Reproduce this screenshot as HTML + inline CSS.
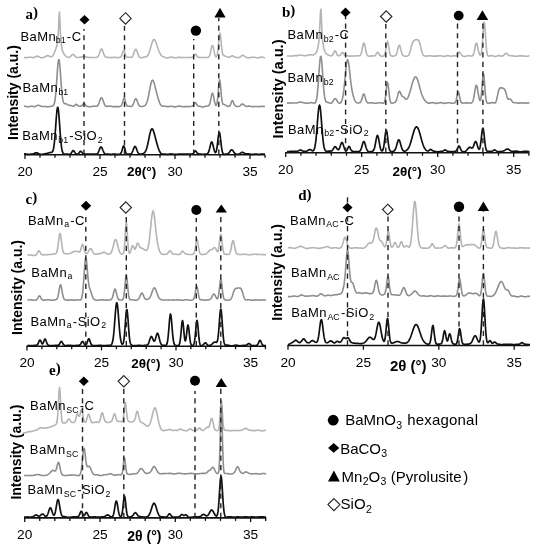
<!DOCTYPE html>
<html><head><meta charset="utf-8"><style>
html,body{margin:0;padding:0;background:#fff;width:540px;height:550px;overflow:hidden}
svg{display:block;filter:blur(0.35px)}
</style></head><body>
<svg width="540" height="550" viewBox="0 0 540 550">
<rect width="540" height="550" fill="#fff"/>
<polyline points="24.0,57.44 24.5,57.49 25.0,57.54 25.5,57.58 26.0,57.61 26.5,57.61 27.0,57.58 27.5,57.52 28.0,57.45 28.5,57.36 29.0,57.28 29.5,57.23 30.0,57.20 30.5,57.23 31.0,57.29 31.5,57.38 32.0,57.48 32.5,57.57 33.0,57.62 33.5,57.61 34.0,57.51 34.5,57.32 35.0,57.06 35.5,56.76 36.0,56.47 36.5,56.26 37.0,56.15 37.5,56.16 38.0,56.29 38.5,56.50 39.0,56.75 39.5,57.02 40.0,57.27 40.5,57.47 41.0,57.63 41.5,57.72 42.0,57.76 42.5,57.73 43.0,57.64 43.5,57.50 44.0,57.31 44.5,57.09 45.0,56.83 45.5,56.55 46.0,56.25 46.5,55.97 47.0,55.74 47.5,55.61 48.0,55.61 48.5,55.74 49.0,55.98 49.5,56.26 50.0,56.54 50.5,56.74 51.0,56.83 51.5,56.76 52.0,56.52 52.5,56.07 53.0,55.39 53.5,54.50 54.0,53.42 54.5,52.21 55.0,50.93 55.5,49.65 56.0,48.32 56.5,46.84 57.0,44.96 57.5,42.18 58.0,37.55 58.5,29.36 59.0,17.10 59.5,11.97 60.0,22.78 60.5,34.28 61.0,41.35 61.5,45.62 62.0,48.45 62.5,50.47 63.0,51.99 63.5,53.15 64.0,54.05 64.5,54.76 65.0,55.32 65.5,55.80 66.0,56.21 66.5,56.56 67.0,56.87 67.5,57.12 68.0,57.31 68.5,57.40 69.0,57.38 69.5,57.22 70.0,56.93 70.5,56.49 71.0,55.96 71.5,55.39 72.0,54.88 72.5,54.54 73.0,54.44 73.5,54.61 74.0,55.01 74.5,55.56 75.0,56.15 75.5,56.69 76.0,57.11 76.5,57.39 77.0,57.54 77.5,57.57 78.0,57.53 78.5,57.44 79.0,57.34 79.5,57.26 80.0,57.19 80.5,57.15 81.0,57.12 81.5,57.05 82.0,56.91 82.5,56.68 83.0,56.41 83.5,56.19 84.0,56.11 84.5,56.22 85.0,56.48 85.5,56.78 86.0,57.04 86.5,57.20 87.0,57.28 87.5,57.32 88.0,57.34 88.5,57.36 89.0,57.40 89.5,57.44 90.0,57.48 90.5,57.51 91.0,57.53 91.5,57.53 92.0,57.52 92.5,57.50 93.0,57.48 93.5,57.46 94.0,57.45 94.5,57.44 95.0,57.44 95.5,57.45 96.0,57.43 96.5,57.38 97.0,57.24 97.5,56.96 98.0,56.46 98.5,55.68 99.0,54.57 99.5,53.18 100.0,51.67 100.5,50.29 101.0,49.32 101.5,48.99 102.0,49.38 102.5,50.40 103.0,51.82 103.5,53.33 104.0,54.69 104.5,55.75 105.0,56.48 105.5,56.92 106.0,57.15 106.5,57.25 107.0,57.30 107.5,57.34 108.0,57.38 108.5,57.43 109.0,57.49 109.5,57.56 110.0,57.61 110.5,57.64 111.0,57.64 111.5,57.62 112.0,57.57 112.5,57.51 113.0,57.45 113.5,57.39 114.0,57.35 114.5,57.34 115.0,57.35 115.5,57.39 116.0,57.45 116.5,57.52 117.0,57.57 117.5,57.61 118.0,57.63 118.5,57.61 119.0,57.57 119.5,57.48 120.0,57.35 120.5,57.09 121.0,56.61 121.5,55.77 122.0,54.49 122.5,52.93 123.0,51.47 123.5,50.65 124.0,50.82 124.5,51.92 125.0,53.52 125.5,55.08 126.0,56.23 126.5,56.89 127.0,57.17 127.5,57.25 128.0,57.24 128.5,57.23 129.0,57.24 129.5,57.30 130.0,57.37 130.5,57.44 131.0,57.46 131.5,57.36 132.0,57.05 132.5,56.46 133.0,55.52 133.5,54.25 134.0,52.74 134.5,51.22 135.0,49.98 135.5,49.27 136.0,49.28 136.5,49.98 137.0,51.21 137.5,52.70 138.0,54.18 138.5,55.46 139.0,56.43 139.5,57.09 140.0,57.49 140.5,57.69 141.0,57.75 141.5,57.72 142.0,57.63 142.5,57.52 143.0,57.40 143.5,57.28 144.0,57.17 144.5,57.08 145.0,56.99 145.5,56.88 146.0,56.74 146.5,56.51 147.0,56.18 147.5,55.69 148.0,55.01 148.5,54.11 149.0,52.97 149.5,51.59 150.0,50.01 150.5,48.26 151.0,46.43 151.5,44.62 152.0,42.93 152.5,41.48 153.0,40.37 153.5,39.68 154.0,39.45 154.5,39.66 155.0,40.30 155.5,41.27 156.0,42.51 156.5,43.91 157.0,45.40 157.5,46.92 158.0,48.41 158.5,49.84 159.0,51.19 159.5,52.41 160.0,53.48 160.5,54.38 161.0,55.11 161.5,55.66 162.0,56.07 162.5,56.36 163.0,56.59 163.5,56.77 164.0,56.96 164.5,57.15 165.0,57.34 165.5,57.54 166.0,57.72 166.5,57.86 167.0,57.94 167.5,57.95 168.0,57.90 168.5,57.79 169.0,57.64 169.5,57.47 170.0,57.31 170.5,57.19 171.0,57.11 171.5,57.09 172.0,57.14 172.5,57.23 173.0,57.36 173.5,57.50 174.0,57.63 174.5,57.73 175.0,57.79 175.5,57.80 176.0,57.76 176.5,57.69 177.0,57.60 177.5,57.50 178.0,57.41 178.5,57.35 179.0,57.32 179.5,57.32 180.0,57.35 180.5,57.40 181.0,57.45 181.5,57.50 182.0,57.54 182.5,57.57 183.0,57.57 183.5,57.55 184.0,57.53 184.5,57.51 185.0,57.49 185.5,57.48 186.0,57.48 186.5,57.49 187.0,57.52 187.5,57.54 188.0,57.56 188.5,57.56 189.0,57.55 189.5,57.53 190.0,57.50 190.5,57.46 191.0,57.41 191.5,57.36 192.0,57.27 192.5,57.09 193.0,56.74 193.5,56.17 194.0,55.43 194.5,54.68 195.0,54.18 195.5,54.15 196.0,54.60 196.5,55.34 197.0,56.12 197.5,56.73 198.0,57.11 198.5,57.29 199.0,57.37 199.5,57.41 200.0,57.43 200.5,57.45 201.0,57.48 201.5,57.51 202.0,57.53 202.5,57.53 203.0,57.53 203.5,57.51 204.0,57.49 204.5,57.47 205.0,57.46 205.5,57.46 206.0,57.47 206.5,57.49 207.0,57.51 207.5,57.51 208.0,57.44 208.5,57.21 209.0,56.71 209.5,55.78 210.0,54.26 210.5,52.16 211.0,49.71 211.5,47.37 212.0,45.76 212.5,45.36 213.0,46.31 213.5,48.30 214.0,50.78 214.5,53.15 215.0,55.04 215.5,56.27 216.0,56.86 216.5,56.75 217.0,55.74 217.5,53.45 218.0,49.55 218.5,44.23 219.0,38.56 219.5,34.34 220.0,33.20 220.5,35.57 221.0,40.42 221.5,45.89 222.0,50.42 222.5,53.34 223.0,54.83 223.5,55.42 224.0,55.62 224.5,55.74 225.0,55.90 225.5,56.12 226.0,56.36 226.5,56.59 227.0,56.79 227.5,56.97 228.0,57.12 228.5,57.23 229.0,57.30 229.5,57.27 230.0,57.09 230.5,56.76 231.0,56.33 231.5,55.93 232.0,55.73 232.5,55.78 233.0,56.05 233.5,56.40 234.0,56.72 234.5,56.94 235.0,57.08 235.5,57.18 236.0,57.27 236.5,57.37 237.0,57.48 237.5,57.57 238.0,57.63 238.5,57.64 239.0,57.57 239.5,57.41 240.0,57.13 240.5,56.76 241.0,56.33 241.5,55.90 242.0,55.55 242.5,55.34 243.0,55.33 243.5,55.50 244.0,55.81 244.5,56.20 245.0,56.59 245.5,56.93 246.0,57.21 246.5,57.40 247.0,57.54 247.5,57.62 248.0,57.67 248.5,57.69 249.0,57.69 249.5,57.66 250.0,57.62 250.5,57.56 251.0,57.48 251.5,57.40 252.0,57.32 252.5,57.26 253.0,57.22 253.5,57.21 254.0,57.24 254.5,57.31 255.0,57.41 255.5,57.53 256.0,57.66 256.5,57.77 257.0,57.85 257.5,57.89 258.0,57.87 258.5,57.80 259.0,57.68 259.5,57.53 260.0,57.37 260.5,57.22 261.0,57.11 261.5,57.05 262.0,57.06 262.5,57.13 263.0,57.25 263.5,57.41 264.0,57.59 264.5,57.75 265.0,57.88" fill="none" stroke="#b4b4b4" stroke-width="1.6" stroke-linejoin="round"/>
<polyline points="24.0,106.09 24.5,106.13 25.0,106.21 25.5,106.34 26.0,106.47 26.5,106.61 27.0,106.71 27.5,106.77 28.0,106.79 28.5,106.75 29.0,106.67 29.5,106.56 30.0,106.45 30.5,106.36 31.0,106.30 31.5,106.29 32.0,106.32 32.5,106.39 33.0,106.49 33.5,106.58 34.0,106.64 34.5,106.64 35.0,106.56 35.5,106.39 36.0,106.16 36.5,105.88 37.0,105.61 37.5,105.40 38.0,105.29 38.5,105.30 39.0,105.41 39.5,105.60 40.0,105.81 40.5,106.03 41.0,106.22 41.5,106.37 42.0,106.47 42.5,106.53 43.0,106.56 43.5,106.56 44.0,106.55 44.5,106.55 45.0,106.55 45.5,106.57 46.0,106.60 46.5,106.64 47.0,106.69 47.5,106.72 48.0,106.73 48.5,106.71 49.0,106.67 49.5,106.59 50.0,106.49 50.5,106.39 51.0,106.29 51.5,106.20 52.0,106.11 52.5,105.99 53.0,105.77 53.5,105.31 54.0,104.41 54.5,102.76 55.0,100.07 55.5,96.05 56.0,90.58 56.5,83.84 57.0,76.41 57.5,69.20 58.0,63.35 58.5,59.90 59.0,59.51 59.5,62.23 60.0,67.52 60.5,74.38 61.0,81.67 61.5,88.41 62.0,93.95 62.5,98.02 63.0,100.72 63.5,102.31 64.0,103.12 64.5,103.47 65.0,103.61 65.5,103.70 66.0,103.83 66.5,104.04 67.0,104.32 67.5,104.64 68.0,104.94 68.5,105.16 69.0,105.28 69.5,105.32 70.0,105.35 70.5,105.42 71.0,105.57 71.5,105.78 72.0,105.97 72.5,106.11 73.0,106.16 73.5,106.10 74.0,105.90 74.5,105.55 75.0,105.07 75.5,104.59 76.0,104.29 76.5,104.30 77.0,104.64 77.5,105.15 78.0,105.66 78.5,106.03 79.0,106.21 79.5,106.25 80.0,106.22 80.5,106.13 81.0,106.00 81.5,105.77 82.0,105.38 82.5,104.82 83.0,104.19 83.5,103.68 84.0,103.51 84.5,103.77 85.0,104.36 85.5,105.07 86.0,105.69 86.5,106.13 87.0,106.38 87.5,106.52 88.0,106.61 88.5,106.66 89.0,106.70 89.5,106.73 90.0,106.73 90.5,106.70 91.0,106.63 91.5,106.54 92.0,106.44 92.5,106.33 93.0,106.24 93.5,106.18 94.0,106.17 94.5,106.19 95.0,106.24 95.5,106.31 96.0,106.35 96.5,106.32 97.0,106.15 97.5,105.78 98.0,105.14 98.5,104.21 99.0,102.99 99.5,101.58 100.0,100.15 100.5,98.90 101.0,98.05 101.5,97.76 102.0,98.10 102.5,99.00 103.0,100.29 103.5,101.75 104.0,103.17 104.5,104.39 105.0,105.31 105.5,105.92 106.0,106.27 106.5,106.40 107.0,106.40 107.5,106.33 108.0,106.23 108.5,106.15 109.0,106.11 109.5,106.11 110.0,106.16 110.5,106.23 111.0,106.33 111.5,106.42 112.0,106.51 112.5,106.58 113.0,106.62 113.5,106.63 114.0,106.64 114.5,106.63 115.0,106.62 115.5,106.62 116.0,106.63 116.5,106.64 117.0,106.66 117.5,106.67 118.0,106.67 118.5,106.64 119.0,106.59 119.5,106.52 120.0,106.41 120.5,106.24 121.0,105.93 121.5,105.34 122.0,104.31 122.5,102.76 123.0,100.85 123.5,99.08 124.0,98.09 124.5,98.30 125.0,99.66 125.5,101.62 126.0,103.53 126.5,104.96 127.0,105.80 127.5,106.17 128.0,106.29 128.5,106.30 129.0,106.29 129.5,106.31 130.0,106.36 130.5,106.41 131.0,106.43 131.5,106.36 132.0,106.10 132.5,105.59 133.0,104.74 133.5,103.57 134.0,102.18 134.5,100.75 135.0,99.56 135.5,98.87 136.0,98.83 136.5,99.43 137.0,100.53 137.5,101.89 138.0,103.24 138.5,104.40 139.0,105.30 139.5,105.91 140.0,106.29 140.5,106.49 141.0,106.56 141.5,106.56 142.0,106.51 142.5,106.43 143.0,106.33 143.5,106.21 144.0,106.06 144.5,105.84 145.0,105.51 145.5,105.02 146.0,104.32 146.5,103.33 147.0,102.02 147.5,100.36 148.0,98.34 148.5,96.01 149.0,93.42 149.5,90.70 150.0,88.00 150.5,85.47 151.0,83.29 151.5,81.61 152.0,80.54 152.5,80.14 153.0,80.41 153.5,81.29 154.0,82.66 154.5,84.38 155.0,86.33 155.5,88.37 156.0,90.41 156.5,92.40 157.0,94.32 157.5,96.17 158.0,97.93 158.5,99.60 159.0,101.13 159.5,102.49 160.0,103.64 160.5,104.55 161.0,105.23 161.5,105.70 162.0,105.97 162.5,106.12 163.0,106.17 163.5,106.18 164.0,106.18 164.5,106.20 165.0,106.25 165.5,106.32 166.0,106.41 166.5,106.50 167.0,106.58 167.5,106.63 168.0,106.64 168.5,106.62 169.0,106.56 169.5,106.49 170.0,106.41 170.5,106.34 171.0,106.31 171.5,106.32 172.0,106.38 172.5,106.47 173.0,106.59 173.5,106.71 174.0,106.81 174.5,106.88 175.0,106.90 175.5,106.86 176.0,106.77 176.5,106.64 177.0,106.49 177.5,106.34 178.0,106.21 178.5,106.12 179.0,106.08 179.5,106.09 180.0,106.15 180.5,106.24 181.0,106.36 181.5,106.47 182.0,106.57 182.5,106.64 183.0,106.68 183.5,106.69 184.0,106.67 184.5,106.64 185.0,106.61 185.5,106.58 186.0,106.57 186.5,106.57 187.0,106.58 187.5,106.59 188.0,106.60 188.5,106.60 189.0,106.58 189.5,106.54 190.0,106.48 190.5,106.42 191.0,106.36 191.5,106.28 192.0,106.18 192.5,105.97 193.0,105.58 193.5,104.95 194.0,104.12 194.5,103.28 195.0,102.72 195.5,102.67 196.0,103.16 196.5,103.99 197.0,104.84 197.5,105.50 198.0,105.90 198.5,106.11 199.0,106.21 199.5,106.29 200.0,106.38 200.5,106.50 201.0,106.64 201.5,106.77 202.0,106.88 202.5,106.94 203.0,106.95 203.5,106.89 204.0,106.78 204.5,106.63 205.0,106.46 205.5,106.30 206.0,106.16 206.5,106.07 207.0,106.02 207.5,106.01 208.0,105.98 208.5,105.83 209.0,105.40 209.5,104.50 210.0,102.95 210.5,100.72 211.0,98.05 211.5,95.46 212.0,93.65 212.5,93.14 213.0,94.12 213.5,96.26 214.0,98.94 214.5,101.52 215.0,103.57 215.5,104.88 216.0,105.39 216.5,104.95 217.0,103.22 217.5,99.76 218.0,94.51 218.5,88.24 219.0,82.70 219.5,79.90 220.0,80.98 220.5,85.42 221.0,91.41 221.5,96.95 222.0,100.90 222.5,103.11 223.0,104.07 223.5,104.38 224.0,104.49 224.5,104.62 225.0,104.83 225.5,105.12 226.0,105.43 226.5,105.72 227.0,105.96 227.5,106.16 228.0,106.32 228.5,106.41 229.0,106.39 229.5,106.17 230.0,105.61 230.5,104.61 231.0,103.25 231.5,101.84 232.0,100.83 232.5,100.63 233.0,101.27 233.5,102.46 234.0,103.76 234.5,104.82 235.0,105.54 235.5,105.96 236.0,106.20 236.5,106.36 237.0,106.47 237.5,106.54 238.0,106.56 238.5,106.51 239.0,106.38 239.5,106.14 240.0,105.80 240.5,105.37 241.0,104.89 241.5,104.45 242.0,104.13 242.5,104.01 243.0,104.11 243.5,104.43 244.0,104.88 244.5,105.37 245.0,105.82 245.5,106.14 246.0,106.33 246.5,106.39 247.0,106.37 247.5,106.30 248.0,106.22 248.5,106.16 249.0,106.14 249.5,106.16 250.0,106.22 250.5,106.31 251.0,106.41 251.5,106.51 252.0,106.59 252.5,106.65 253.0,106.66 253.5,106.65 254.0,106.61 254.5,106.57 255.0,106.52 255.5,106.49 256.0,106.48 256.5,106.50 257.0,106.53 257.5,106.57 258.0,106.61 258.5,106.64 259.0,106.65 259.5,106.63 260.0,106.59 260.5,106.53 261.0,106.46 261.5,106.40 262.0,106.36 262.5,106.34 263.0,106.35 263.5,106.38 264.0,106.42 264.5,106.47 265.0,106.51" fill="none" stroke="#8e8e8e" stroke-width="1.6" stroke-linejoin="round"/>
<polyline points="24.0,153.92 24.5,153.89 25.0,153.89 25.5,153.94 26.0,154.02 26.5,154.11 27.0,154.21 27.5,154.29 28.0,154.34 28.5,154.35 29.0,154.34 29.5,154.29 30.0,154.23 30.5,154.17 31.0,154.11 31.5,154.06 32.0,154.02 32.5,153.97 33.0,153.88 33.5,153.75 34.0,153.57 34.5,153.34 35.0,153.10 35.5,152.91 36.0,152.80 36.5,152.80 37.0,152.90 37.5,153.09 38.0,153.31 38.5,153.55 39.0,153.76 39.5,153.95 40.0,154.11 40.5,154.23 41.0,154.32 41.5,154.36 42.0,154.36 42.5,154.32 43.0,154.23 43.5,154.12 44.0,154.00 44.5,153.87 45.0,153.76 45.5,153.65 46.0,153.56 46.5,153.47 47.0,153.37 47.5,153.25 48.0,153.10 48.5,152.94 49.0,152.78 49.5,152.64 50.0,152.54 50.5,152.48 51.0,152.44 51.5,152.37 52.0,152.16 52.5,151.65 53.0,150.61 53.5,148.76 54.0,145.79 54.5,141.50 55.0,135.84 55.5,129.10 56.0,121.92 56.5,115.21 57.0,110.05 57.5,107.34 58.0,107.60 58.5,110.78 59.0,116.30 59.5,123.21 60.0,130.46 60.5,137.16 61.0,142.76 61.5,147.02 62.0,150.01 62.5,151.94 63.0,153.10 63.5,153.73 64.0,154.04 64.5,154.16 65.0,154.19 65.5,154.17 66.0,154.15 66.5,154.13 67.0,154.14 67.5,154.17 68.0,154.22 68.5,154.28 69.0,154.33 69.5,154.34 70.0,154.26 70.5,154.02 71.0,153.55 71.5,152.83 72.0,151.93 72.5,151.06 73.0,150.53 73.5,150.52 74.0,151.02 74.5,151.83 75.0,152.66 75.5,153.34 76.0,153.80 76.5,154.08 77.0,154.21 77.5,154.20 78.0,154.02 78.5,153.63 79.0,153.02 79.5,152.27 80.0,151.60 80.5,151.24 81.0,151.34 81.5,151.82 82.0,152.51 82.5,153.16 83.0,153.66 83.5,153.96 84.0,154.12 84.5,154.19 85.0,154.22 85.5,154.22 86.0,154.22 86.5,154.21 87.0,154.21 87.5,154.20 88.0,154.20 88.5,154.21 89.0,154.21 89.5,154.21 90.0,154.21 90.5,154.19 91.0,154.16 91.5,154.13 92.0,154.10 92.5,154.06 93.0,154.04 93.5,154.04 94.0,154.05 94.5,154.09 95.0,154.14 95.5,154.18 96.0,154.20 96.5,154.15 97.0,153.96 97.5,153.58 98.0,152.92 98.5,151.97 99.0,150.76 99.5,149.42 100.0,148.17 100.5,147.26 101.0,146.91 101.5,147.19 102.0,148.02 102.5,149.21 103.0,150.51 103.5,151.70 104.0,152.64 104.5,153.31 105.0,153.73 105.5,153.96 106.0,154.07 106.5,154.11 107.0,154.12 107.5,154.13 108.0,154.15 108.5,154.18 109.0,154.21 109.5,154.25 110.0,154.29 110.5,154.31 111.0,154.31 111.5,154.29 112.0,154.25 112.5,154.20 113.0,154.15 113.5,154.11 114.0,154.08 114.5,154.08 115.0,154.11 115.5,154.17 116.0,154.25 116.5,154.33 117.0,154.40 117.5,154.45 118.0,154.46 118.5,154.43 119.0,154.35 119.5,154.22 120.0,154.02 120.5,153.67 121.0,153.05 121.5,152.01 122.0,150.47 122.5,148.60 123.0,146.89 123.5,145.95 124.0,146.19 124.5,147.56 125.0,149.51 125.5,151.42 126.0,152.86 126.5,153.71 127.0,154.10 127.5,154.21 128.0,154.19 128.5,154.14 129.0,154.09 129.5,154.05 130.0,154.01 130.5,153.92 131.0,153.73 131.5,153.35 132.0,152.70 132.5,151.73 133.0,150.48 133.5,149.07 134.0,147.75 134.5,146.78 135.0,146.39 135.5,146.67 136.0,147.55 136.5,148.82 137.0,150.23 137.5,151.54 138.0,152.60 138.5,153.36 139.0,153.84 139.5,154.10 140.0,154.19 140.5,154.18 141.0,154.10 141.5,153.98 142.0,153.84 142.5,153.68 143.0,153.50 143.5,153.29 144.0,153.01 144.5,152.63 145.0,152.08 145.5,151.32 146.0,150.29 146.5,148.95 147.0,147.28 147.5,145.30 148.0,143.06 148.5,140.62 149.0,138.11 149.5,135.65 150.0,133.39 150.5,131.47 151.0,130.02 151.5,129.11 152.0,128.80 152.5,129.08 153.0,129.88 153.5,131.13 154.0,132.70 154.5,134.49 155.0,136.38 155.5,138.30 156.0,140.20 156.5,142.05 157.0,143.84 157.5,145.55 158.0,147.17 158.5,148.66 159.0,149.99 159.5,151.14 160.0,152.08 160.5,152.82 161.0,153.35 161.5,153.71 162.0,153.93 162.5,154.05 163.0,154.11 163.5,154.12 164.0,154.13 164.5,154.14 165.0,154.16 165.5,154.19 166.0,154.23 166.5,154.26 167.0,154.29 167.5,154.30 168.0,154.28 168.5,154.24 169.0,154.18 169.5,154.11 170.0,154.04 170.5,153.98 171.0,153.95 171.5,153.95 172.0,153.99 172.5,154.05 173.0,154.13 173.5,154.23 174.0,154.32 174.5,154.39 175.0,154.44 175.5,154.45 176.0,154.44 176.5,154.40 177.0,154.34 177.5,154.27 178.0,154.21 178.5,154.16 179.0,154.12 179.5,154.10 180.0,154.10 180.5,154.12 181.0,154.14 181.5,154.16 182.0,154.18 182.5,154.19 183.0,154.19 183.5,154.19 184.0,154.19 184.5,154.19 185.0,154.19 185.5,154.19 186.0,154.20 186.5,154.21 187.0,154.21 187.5,154.20 188.0,154.19 188.5,154.17 189.0,154.15 189.5,154.12 190.0,154.10 190.5,154.09 191.0,154.09 191.5,154.09 192.0,154.06 192.5,153.93 193.0,153.62 193.5,153.08 194.0,152.34 194.5,151.57 195.0,151.03 195.5,150.95 196.0,151.34 196.5,152.02 197.0,152.74 197.5,153.31 198.0,153.66 198.5,153.85 199.0,153.93 199.5,153.98 200.0,154.03 200.5,154.09 201.0,154.14 201.5,154.19 202.0,154.23 202.5,154.24 203.0,154.24 203.5,154.23 204.0,154.21 204.5,154.19 205.0,154.17 205.5,154.16 206.0,154.15 206.5,154.12 207.0,154.00 207.5,153.73 208.0,153.18 208.5,152.26 209.0,150.86 209.5,149.00 210.0,146.83 210.5,144.66 211.0,142.91 211.5,141.97 212.0,142.06 212.5,143.17 213.0,145.03 213.5,147.23 214.0,149.36 214.5,151.09 215.0,152.21 215.5,152.57 216.0,152.04 216.5,150.42 217.0,147.61 217.5,143.73 218.0,139.31 218.5,135.30 219.0,132.79 219.5,132.55 220.0,134.67 220.5,138.49 221.0,142.95 221.5,147.08 222.0,150.27 222.5,152.37 223.0,153.58 223.5,154.15 224.0,154.36 224.5,154.38 225.0,154.30 225.5,154.20 226.0,154.09 226.5,153.99 227.0,153.90 227.5,153.78 228.0,153.59 228.5,153.28 229.0,152.80 229.5,152.16 230.0,151.41 230.5,150.66 231.0,150.06 231.5,149.74 232.0,149.79 232.5,150.19 233.0,150.85 233.5,151.62 234.0,152.38 234.5,153.02 235.0,153.53 235.5,153.88 236.0,154.12 236.5,154.25 237.0,154.32 237.5,154.31 238.0,154.26 238.5,154.15 239.0,153.98 239.5,153.76 240.0,153.49 240.5,153.18 241.0,152.86 241.5,152.57 242.0,152.38 242.5,152.33 243.0,152.44 243.5,152.69 244.0,153.01 244.5,153.35 245.0,153.62 245.5,153.81 246.0,153.89 246.5,153.90 247.0,153.86 247.5,153.83 248.0,153.81 248.5,153.84 249.0,153.90 249.5,154.00 250.0,154.12 250.5,154.24 251.0,154.34 251.5,154.41 252.0,154.44 252.5,154.43 253.0,154.38 253.5,154.32 254.0,154.24 254.5,154.18 255.0,154.13 255.5,154.11 256.0,154.11 256.5,154.14 257.0,154.18 257.5,154.23 258.0,154.27 258.5,154.30 259.0,154.30 259.5,154.29 260.0,154.26 260.5,154.22 261.0,154.18 261.5,154.15 262.0,154.13 262.5,154.13 263.0,154.15 263.5,154.17 264.0,154.20 264.5,154.22 265.0,154.23" fill="none" stroke="#111111" stroke-width="1.7" stroke-linejoin="round"/>
<line x1="24.4" y1="154.7" x2="265" y2="154.7" stroke="#111" stroke-width="1.6"/>
<line x1="25.00" y1="154.7" x2="25.00" y2="158.89999999999998" stroke="#111" stroke-width="1.3"/>
<line x1="40.00" y1="154.7" x2="40.00" y2="157.7" stroke="#111" stroke-width="1.3"/>
<line x1="55.00" y1="154.7" x2="55.00" y2="157.7" stroke="#111" stroke-width="1.3"/>
<line x1="70.00" y1="154.7" x2="70.00" y2="157.7" stroke="#111" stroke-width="1.3"/>
<line x1="85.00" y1="154.7" x2="85.00" y2="157.7" stroke="#111" stroke-width="1.3"/>
<line x1="100.00" y1="154.7" x2="100.00" y2="158.89999999999998" stroke="#111" stroke-width="1.3"/>
<line x1="115.00" y1="154.7" x2="115.00" y2="157.7" stroke="#111" stroke-width="1.3"/>
<line x1="130.00" y1="154.7" x2="130.00" y2="157.7" stroke="#111" stroke-width="1.3"/>
<line x1="145.00" y1="154.7" x2="145.00" y2="157.7" stroke="#111" stroke-width="1.3"/>
<line x1="160.00" y1="154.7" x2="160.00" y2="157.7" stroke="#111" stroke-width="1.3"/>
<line x1="175.00" y1="154.7" x2="175.00" y2="158.89999999999998" stroke="#111" stroke-width="1.3"/>
<line x1="190.00" y1="154.7" x2="190.00" y2="157.7" stroke="#111" stroke-width="1.3"/>
<line x1="205.00" y1="154.7" x2="205.00" y2="157.7" stroke="#111" stroke-width="1.3"/>
<line x1="220.00" y1="154.7" x2="220.00" y2="157.7" stroke="#111" stroke-width="1.3"/>
<line x1="235.00" y1="154.7" x2="235.00" y2="157.7" stroke="#111" stroke-width="1.3"/>
<line x1="250.00" y1="154.7" x2="250.00" y2="158.89999999999998" stroke="#111" stroke-width="1.3"/>
<line x1="265.00" y1="154.7" x2="265.00" y2="157.7" stroke="#111" stroke-width="1.3"/>
<text x="25.0" y="176" style="font-family:'Liberation Sans'" font-size="13.7" font-weight="normal" text-anchor="middle" >20</text>
<text x="100.0" y="176" style="font-family:'Liberation Sans'" font-size="13.7" font-weight="normal" text-anchor="middle" >25</text>
<text x="175.0" y="176" style="font-family:'Liberation Sans'" font-size="13.7" font-weight="normal" text-anchor="middle" >30</text>
<text x="250.0" y="176" style="font-family:'Liberation Sans'" font-size="13.7" font-weight="normal" text-anchor="middle" >35</text>
<text x="127" y="176" style="font-family:'Liberation Sans'" font-size="13.5" font-weight="bold" text-anchor="start" >2θ(°)</text>
<text x="0" y="0" style="font-family:'Liberation Sans'" font-size="14" font-weight="bold" transform="translate(17.9,140) rotate(-90)">Intensity (a.u.)</text>
<text x="20.4" y="40.5" style="font-family:'Liberation Sans'" font-size="13" font-weight="normal" text-anchor="start" letter-spacing="0.45">BaMn<tspan font-size="8.8" dx="-0.3" dy="2.7" letter-spacing="0">b1</tspan><tspan dx="1.2" dy="-2.7">-C</tspan></text>
<text x="22.4" y="92.2" style="font-family:'Liberation Sans'" font-size="13" font-weight="normal" text-anchor="start" letter-spacing="0.45">BaMn<tspan font-size="8.8" dx="0.3" dy="2.7" letter-spacing="0">b1</tspan></text>
<text x="22.2" y="140.39999999999998" style="font-family:'Liberation Sans'" font-size="13" font-weight="normal" text-anchor="start" letter-spacing="0.45">BaMn<tspan font-size="8.8" dx="0.3" dy="2.7" letter-spacing="0">b1</tspan><tspan dx="1.2" dy="-2.7">-SiO</tspan><tspan font-size="8.8" dx="0.6" dy="2.7" letter-spacing="0">2</tspan></text>
<line x1="84" y1="154.7" x2="84" y2="29" stroke="#222222" stroke-width="1.4" stroke-dasharray="5.2 4.33"/>
<path d="M84.5 14.899999999999999 L89.5 19.7 L84.5 24.5 L79.5 19.7 Z" fill="#000"/>
<line x1="124.5" y1="154.7" x2="124.5" y2="26" stroke="#222222" stroke-width="1.4" stroke-dasharray="5.2 4.33"/>
<path d="M125.5 12.7 L131.2 18.4 L125.5 24.099999999999998 L119.8 18.4 Z" fill="#fff" stroke="#222" stroke-width="1.1"/>
<line x1="193.7" y1="154.7" x2="193.7" y2="39" stroke="#222222" stroke-width="1.4" stroke-dasharray="5.2 4.33"/>
<circle cx="195.9" cy="30.6" r="5.2" fill="#000"/>
<line x1="218.8" y1="154.7" x2="218.8" y2="18" stroke="#222222" stroke-width="1.4" stroke-dasharray="5.2 4.33"/>
<path d="M220 7.8 L225.6 17.6 L214.4 17.6 Z" fill="#000"/>
<polyline points="287.0,56.01 287.5,56.02 288.0,56.01 288.5,55.99 289.0,55.99 289.5,56.00 290.0,56.02 290.5,56.04 291.0,56.07 291.5,56.08 292.0,56.07 292.5,56.03 293.0,55.96 293.5,55.87 294.0,55.77 294.5,55.69 295.0,55.63 295.5,55.61 296.0,55.62 296.5,55.64 297.0,55.66 297.5,55.66 298.0,55.60 298.5,55.49 299.0,55.35 299.5,55.21 300.0,55.09 300.5,55.03 301.0,55.03 301.5,55.10 302.0,55.20 302.5,55.33 303.0,55.46 303.5,55.59 304.0,55.69 304.5,55.77 305.0,55.81 305.5,55.80 306.0,55.74 306.5,55.62 307.0,55.47 307.5,55.28 308.0,55.08 308.5,54.89 309.0,54.75 309.5,54.68 310.0,54.68 310.5,54.77 311.0,54.89 311.5,55.00 312.0,55.06 312.5,55.05 313.0,54.94 313.5,54.75 314.0,54.49 314.5,54.16 315.0,53.77 315.5,53.29 316.0,52.68 316.5,51.87 317.0,50.79 317.5,49.32 318.0,47.28 318.5,44.40 319.0,40.10 319.5,33.36 320.0,22.90 320.5,10.97 321.0,9.33 321.5,20.28 322.0,31.41 322.5,38.79 323.0,43.49 323.5,46.66 324.0,48.91 324.5,50.56 325.0,51.77 325.5,52.67 326.0,53.32 326.5,53.80 327.0,54.18 327.5,54.48 328.0,54.75 328.5,55.01 329.0,55.25 329.5,55.47 330.0,55.64 330.5,55.76 331.0,55.80 331.5,55.72 332.0,55.49 332.5,55.02 333.0,54.24 333.5,53.18 334.0,52.03 334.5,51.13 335.0,50.81 335.5,51.23 336.0,52.22 336.5,53.41 337.0,54.47 337.5,55.21 338.0,55.61 338.5,55.78 339.0,55.78 339.5,55.65 340.0,55.36 340.5,54.85 341.0,54.15 341.5,53.37 342.0,52.74 342.5,52.52 343.0,52.79 343.5,53.44 344.0,54.22 344.5,54.88 345.0,55.32 345.5,55.54 346.0,55.63 346.5,55.67 347.0,55.71 347.5,55.78 348.0,55.86 348.5,55.95 349.0,56.03 349.5,56.09 350.0,56.11 350.5,56.11 351.0,56.08 351.5,56.03 352.0,55.99 352.5,55.95 353.0,55.94 353.5,55.94 354.0,55.95 354.5,55.97 355.0,55.99 355.5,55.98 356.0,55.95 356.5,55.90 357.0,55.84 357.5,55.78 358.0,55.74 358.5,55.72 359.0,55.71 359.5,55.67 360.0,55.48 360.5,55.00 361.0,54.02 361.5,52.38 362.0,50.09 362.5,47.43 363.0,44.96 363.5,43.34 364.0,43.04 364.5,44.14 365.0,46.29 365.5,48.86 366.0,51.29 366.5,53.21 367.0,54.54 367.5,55.37 368.0,55.84 368.5,56.08 369.0,56.18 369.5,56.19 370.0,56.14 370.5,56.05 371.0,55.96 371.5,55.89 372.0,55.85 372.5,55.86 373.0,55.90 373.5,55.96 374.0,55.99 374.5,55.92 375.0,55.66 375.5,55.14 376.0,54.35 376.5,53.44 377.0,52.65 377.5,52.29 378.0,52.47 378.5,53.10 379.0,53.95 379.5,54.76 380.0,55.38 380.5,55.81 381.0,56.07 381.5,56.23 382.0,56.30 382.5,56.30 383.0,56.23 383.5,56.07 384.0,55.73 384.5,55.04 385.0,53.73 385.5,51.52 386.0,48.43 386.5,44.98 387.0,42.19 387.5,41.14 388.0,42.28 388.5,45.12 389.0,48.61 389.5,51.70 390.0,53.88 390.5,55.13 391.0,55.74 391.5,56.01 392.0,56.11 392.5,56.15 393.0,56.16 393.5,56.13 394.0,56.07 394.5,55.97 395.0,55.78 395.5,55.45 396.0,54.88 396.5,53.92 397.0,52.47 397.5,50.54 398.0,48.39 398.5,46.46 399.0,45.27 399.5,45.20 400.0,46.29 400.5,48.18 401.0,50.36 401.5,52.34 402.0,53.84 402.5,54.82 403.0,55.39 403.5,55.71 404.0,55.90 404.5,56.03 405.0,56.13 405.5,56.20 406.0,56.23 406.5,56.20 407.0,56.11 407.5,55.95 408.0,55.68 408.5,55.24 409.0,54.50 409.5,53.37 410.0,51.82 410.5,49.93 411.0,47.89 411.5,45.93 412.0,44.22 412.5,42.86 413.0,41.85 413.5,41.14 414.0,40.66 414.5,40.31 415.0,40.05 415.5,39.84 416.0,39.69 416.5,39.60 417.0,39.60 417.5,39.72 418.0,40.03 418.5,40.57 419.0,41.41 419.5,42.61 420.0,44.18 420.5,46.09 421.0,48.21 421.5,50.33 422.0,52.24 422.5,53.75 423.0,54.78 423.5,55.40 424.0,55.72 424.5,55.90 425.0,56.00 425.5,56.07 426.0,56.12 426.5,56.13 427.0,56.11 427.5,56.06 428.0,55.99 428.5,55.91 429.0,55.84 429.5,55.80 430.0,55.79 430.5,55.82 431.0,55.87 431.5,55.94 432.0,56.01 432.5,56.08 433.0,56.13 433.5,56.16 434.0,56.17 434.5,56.17 435.0,56.15 435.5,56.13 436.0,56.09 436.5,56.05 437.0,56.01 437.5,55.95 438.0,55.89 438.5,55.84 439.0,55.78 439.5,55.75 440.0,55.74 440.5,55.76 441.0,55.83 441.5,55.92 442.0,56.04 442.5,56.17 443.0,56.28 443.5,56.35 444.0,56.37 444.5,56.33 445.0,56.23 445.5,56.09 446.0,55.94 446.5,55.80 447.0,55.69 447.5,55.64 448.0,55.66 448.5,55.73 449.0,55.85 449.5,56.00 450.0,56.13 450.5,56.22 451.0,56.26 451.5,56.24 452.0,56.16 452.5,56.05 453.0,55.93 453.5,55.83 454.0,55.78 454.5,55.78 455.0,55.83 455.5,55.87 456.0,55.85 456.5,55.63 457.0,55.13 457.5,54.32 458.0,53.33 458.5,52.45 459.0,51.99 459.5,52.12 460.0,52.74 460.5,53.58 461.0,54.39 461.5,55.03 462.0,55.49 462.5,55.82 463.0,56.07 463.5,56.27 464.0,56.39 464.5,56.45 465.0,56.42 465.5,56.33 466.0,56.19 466.5,56.03 467.0,55.88 467.5,55.76 468.0,55.69 468.5,55.68 469.0,55.71 469.5,55.78 470.0,55.87 470.5,55.96 471.0,56.02 471.5,56.04 472.0,55.95 472.5,55.70 473.0,55.15 473.5,54.15 474.0,52.54 474.5,50.31 475.0,47.71 475.5,45.23 476.0,43.51 476.5,43.06 477.0,44.03 477.5,46.10 478.0,48.67 478.5,51.14 479.0,53.08 479.5,54.39 480.0,55.07 480.5,55.14 481.0,54.40 481.5,52.36 482.0,48.35 482.5,42.06 483.0,34.19 483.5,26.76 484.0,22.39 484.5,22.89 485.0,28.05 485.5,35.79 486.0,43.51 486.5,49.43 487.0,53.12 487.5,55.01 488.0,55.82 488.5,56.07 489.0,56.09 489.5,56.00 490.0,55.87 490.5,55.75 491.0,55.65 491.5,55.60 492.0,55.62 492.5,55.71 493.0,55.85 493.5,56.03 494.0,56.21 494.5,56.36 495.0,56.45 495.5,56.46 496.0,56.40 496.5,56.26 497.0,56.09 497.5,55.91 498.0,55.75 498.5,55.64 499.0,55.60 499.5,55.64 500.0,55.74 500.5,55.87 501.0,56.00 501.5,56.09 502.0,56.10 502.5,56.00 503.0,55.76 503.5,55.38 504.0,54.89 504.5,54.34 505.0,53.83 505.5,53.45 506.0,53.28 506.5,53.38 507.0,53.71 507.5,54.19 508.0,54.72 508.5,55.19 509.0,55.55 509.5,55.75 510.0,55.82 510.5,55.81 511.0,55.76 511.5,55.70 512.0,55.68 512.5,55.71 513.0,55.78 513.5,55.88 514.0,56.00 514.5,56.11 515.0,56.20 515.5,56.25 516.0,56.26 516.5,56.23 517.0,56.18 517.5,56.11 518.0,56.04 518.5,55.98 519.0,55.93 519.5,55.90 520.0,55.88 520.5,55.87 521.0,55.86 521.5,55.86 522.0,55.86 522.5,55.86 523.0,55.89 523.5,55.92 524.0,55.98 524.5,56.04 525.0,56.12 525.5,56.18 526.0,56.23 526.5,56.24 527.0,56.22 527.5,56.16 528.0,56.08 528.5,55.98 529.0,55.88 529.5,55.81" fill="none" stroke="#b4b4b4" stroke-width="1.6" stroke-linejoin="round"/>
<polyline points="287.0,103.13 287.5,103.15 288.0,103.15 288.5,103.13 289.0,103.10 289.5,103.05 290.0,103.01 290.5,102.97 291.0,102.94 291.5,102.91 292.0,102.91 292.5,102.91 293.0,102.92 293.5,102.93 294.0,102.95 294.5,102.96 295.0,102.97 295.5,102.98 296.0,102.96 296.5,102.93 297.0,102.85 297.5,102.74 298.0,102.59 298.5,102.42 299.0,102.25 299.5,102.12 300.0,102.05 300.5,102.05 301.0,102.12 301.5,102.23 302.0,102.37 302.5,102.49 303.0,102.61 303.5,102.71 304.0,102.81 304.5,102.90 305.0,102.99 305.5,103.08 306.0,103.17 306.5,103.23 307.0,103.26 307.5,103.25 308.0,103.21 308.5,103.13 309.0,103.03 309.5,102.92 310.0,102.81 310.5,102.72 311.0,102.67 311.5,102.67 312.0,102.71 312.5,102.80 313.0,102.92 313.5,103.04 314.0,103.12 314.5,103.12 315.0,102.92 315.5,102.40 316.0,101.36 316.5,99.54 317.0,96.65 317.5,92.43 318.0,86.82 318.5,80.02 319.0,72.60 319.5,65.49 320.0,59.81 320.5,56.57 321.0,56.40 321.5,59.36 322.0,64.86 322.5,71.92 323.0,79.38 323.5,86.28 324.0,91.96 324.5,96.18 325.0,99.01 325.5,100.73 326.0,101.66 326.5,102.10 327.0,102.29 327.5,102.39 328.0,102.49 328.5,102.61 329.0,102.77 329.5,102.95 330.0,103.11 330.5,103.21 331.0,103.20 331.5,103.02 332.0,102.64 332.5,102.03 333.0,101.24 333.5,100.35 334.0,99.50 334.5,98.87 335.0,98.58 335.5,98.70 336.0,99.18 336.5,99.91 337.0,100.75 337.5,101.56 338.0,102.24 338.5,102.75 339.0,103.06 339.5,103.19 340.0,103.12 340.5,102.86 341.0,102.35 341.5,101.51 342.0,100.26 342.5,98.46 343.0,95.97 343.5,92.71 344.0,88.63 344.5,83.81 345.0,78.49 345.5,73.02 346.0,67.91 346.5,63.69 347.0,60.83 347.5,59.65 348.0,60.26 348.5,62.50 349.0,66.02 349.5,70.33 350.0,74.93 350.5,79.41 351.0,83.49 351.5,87.04 352.0,90.05 352.5,92.59 353.0,94.75 353.5,96.61 354.0,98.19 354.5,99.52 355.0,100.61 355.5,101.45 356.0,102.07 356.5,102.50 357.0,102.77 357.5,102.92 358.0,102.98 358.5,102.99 359.0,102.94 359.5,102.83 360.0,102.59 360.5,102.14 361.0,101.36 361.5,100.16 362.0,98.56 362.5,96.75 363.0,95.12 363.5,94.12 364.0,94.06 364.5,94.97 365.0,96.57 365.5,98.43 366.0,100.13 366.5,101.43 367.0,102.27 367.5,102.73 368.0,102.93 368.5,102.98 369.0,102.96 369.5,102.90 370.0,102.85 370.5,102.81 371.0,102.79 371.5,102.80 372.0,102.84 372.5,102.90 373.0,102.99 373.5,103.07 374.0,103.15 374.5,103.21 375.0,103.25 375.5,103.25 376.0,103.21 376.5,103.14 377.0,103.05 377.5,102.95 378.0,102.85 378.5,102.77 379.0,102.73 379.5,102.73 380.0,102.76 380.5,102.83 381.0,102.93 381.5,103.04 382.0,103.14 382.5,103.22 383.0,103.24 383.5,103.14 384.0,102.78 384.5,101.90 385.0,100.09 385.5,97.00 386.0,92.62 386.5,87.72 387.0,83.75 387.5,82.22 388.0,83.77 388.5,87.76 389.0,92.67 389.5,97.04 390.0,100.13 390.5,101.91 391.0,102.77 391.5,103.10 392.0,103.18 392.5,103.14 393.0,103.06 393.5,102.95 394.0,102.80 394.5,102.61 395.0,102.32 395.5,101.83 396.0,101.05 396.5,99.87 397.0,98.27 397.5,96.34 398.0,94.33 398.5,92.59 399.0,91.48 399.5,91.20 400.0,91.74 400.5,92.85 401.0,94.15 401.5,95.29 402.0,96.06 402.5,96.46 403.0,96.67 403.5,96.88 404.0,97.24 404.5,97.77 405.0,98.38 405.5,98.92 406.0,99.25 406.5,99.27 407.0,98.95 407.5,98.30 408.0,97.37 408.5,96.20 409.0,94.83 409.5,93.32 410.0,91.68 410.5,89.95 411.0,88.16 411.5,86.36 412.0,84.58 412.5,82.87 413.0,81.27 413.5,79.85 414.0,78.66 414.5,77.74 415.0,77.14 415.5,76.89 416.0,77.02 416.5,77.52 417.0,78.38 417.5,79.57 418.0,81.04 418.5,82.73 419.0,84.57 419.5,86.48 420.0,88.40 420.5,90.26 421.0,92.01 421.5,93.61 422.0,95.05 422.5,96.31 423.0,97.42 423.5,98.38 424.0,99.21 424.5,99.94 425.0,100.58 425.5,101.15 426.0,101.66 426.5,102.10 427.0,102.47 427.5,102.77 428.0,102.98 428.5,103.11 429.0,103.16 429.5,103.14 430.0,103.06 430.5,102.95 431.0,102.82 431.5,102.71 432.0,102.64 432.5,102.61 433.0,102.64 433.5,102.72 434.0,102.85 434.5,102.99 435.0,103.14 435.5,103.27 436.0,103.36 436.5,103.39 437.0,103.37 437.5,103.29 438.0,103.17 438.5,103.02 439.0,102.87 439.5,102.75 440.0,102.66 440.5,102.62 441.0,102.64 441.5,102.71 442.0,102.82 442.5,102.96 443.0,103.10 443.5,103.22 444.0,103.31 444.5,103.35 445.0,103.34 445.5,103.28 446.0,103.18 446.5,103.06 447.0,102.93 447.5,102.82 448.0,102.73 448.5,102.69 449.0,102.69 449.5,102.74 450.0,102.81 450.5,102.92 451.0,103.03 451.5,103.13 452.0,103.21 452.5,103.25 453.0,103.26 453.5,103.23 454.0,103.14 454.5,102.98 455.0,102.63 455.5,101.95 456.0,100.71 456.5,98.76 457.0,96.26 457.5,93.77 458.0,92.13 458.5,92.01 459.0,93.48 459.5,95.94 460.0,98.54 460.5,100.63 461.0,101.97 461.5,102.69 462.0,102.99 462.5,103.09 463.0,103.10 463.5,103.07 464.0,103.03 464.5,102.98 465.0,102.93 465.5,102.89 466.0,102.86 466.5,102.85 467.0,102.85 467.5,102.86 468.0,102.89 468.5,102.94 469.0,102.99 469.5,103.05 470.0,103.10 470.5,103.12 471.0,103.08 471.5,102.93 472.0,102.57 472.5,101.89 473.0,100.72 473.5,98.92 474.0,96.46 474.5,93.47 475.0,90.32 475.5,87.54 476.0,85.73 476.5,85.32 477.0,86.42 477.5,88.76 478.0,91.83 478.5,95.00 479.0,97.75 479.5,99.72 480.0,100.63 480.5,100.15 481.0,97.83 481.5,93.36 482.0,87.03 482.5,80.22 483.0,75.12 483.5,73.76 484.0,76.69 484.5,82.70 485.0,89.58 485.5,95.42 486.0,99.40 486.5,101.65 487.0,102.74 487.5,103.19 488.0,103.33 488.5,103.34 489.0,103.27 489.5,103.14 490.0,103.00 490.5,102.85 491.0,102.73 491.5,102.64 492.0,102.61 492.5,102.64 493.0,102.72 493.5,102.84 494.0,102.97 494.5,103.07 495.0,103.01 495.5,102.62 496.0,101.70 496.5,100.16 497.0,98.06 497.5,95.66 498.0,93.28 498.5,91.23 499.0,89.67 499.5,88.62 500.0,88.04 500.5,87.79 501.0,87.76 501.5,87.86 502.0,87.99 502.5,88.12 503.0,88.26 503.5,88.43 504.0,88.72 504.5,89.24 505.0,90.10 505.5,91.36 506.0,93.02 506.5,94.90 507.0,96.73 507.5,98.18 508.0,99.03 508.5,99.30 509.0,99.19 509.5,99.01 510.0,99.00 510.5,99.28 511.0,99.83 511.5,100.53 512.0,101.24 512.5,101.85 513.0,102.30 513.5,102.57 514.0,102.71 514.5,102.77 515.0,102.78 515.5,102.79 516.0,102.81 516.5,102.86 517.0,102.92 517.5,102.99 518.0,103.06 518.5,103.11 519.0,103.14 519.5,103.15 520.0,103.12 520.5,103.08 521.0,103.02 521.5,102.96 522.0,102.91 522.5,102.88 523.0,102.88 523.5,102.89 524.0,102.93 524.5,102.98 525.0,103.03 525.5,103.08 526.0,103.11 526.5,103.12 527.0,103.10 527.5,103.07 528.0,103.02 528.5,102.96 529.0,102.92 529.5,102.88" fill="none" stroke="#8e8e8e" stroke-width="1.6" stroke-linejoin="round"/>
<polyline points="287.0,151.71 287.5,151.66 288.0,151.60 288.5,151.55 289.0,151.51 289.5,151.48 290.0,151.45 290.5,151.43 291.0,151.41 291.5,151.39 292.0,151.37 292.5,151.35 293.0,151.33 293.5,151.33 294.0,151.33 294.5,151.35 295.0,151.38 295.5,151.41 296.0,151.43 296.5,151.42 297.0,151.35 297.5,151.20 298.0,150.98 298.5,150.72 299.0,150.44 299.5,150.21 300.0,150.08 300.5,150.07 301.0,150.18 301.5,150.38 302.0,150.61 302.5,150.85 303.0,151.06 303.5,151.22 304.0,151.34 304.5,151.42 305.0,151.45 305.5,151.44 306.0,151.37 306.5,151.24 307.0,151.03 307.5,150.75 308.0,150.41 308.5,150.06 309.0,149.75 309.5,149.56 310.0,149.53 310.5,149.68 311.0,149.96 311.5,150.32 312.0,150.65 312.5,150.86 313.0,150.86 313.5,150.55 314.0,149.82 314.5,148.51 315.0,146.44 315.5,143.42 316.0,139.30 316.5,134.10 317.0,127.99 317.5,121.43 318.0,115.09 318.5,109.76 319.0,106.22 319.5,105.01 320.0,106.33 320.5,109.98 321.0,115.40 321.5,121.81 322.0,128.41 322.5,134.54 323.0,139.73 323.5,143.80 324.0,146.76 324.5,148.76 325.0,150.01 325.5,150.73 326.0,151.09 326.5,151.24 327.0,151.26 327.5,151.23 328.0,151.19 328.5,151.15 329.0,151.14 329.5,151.16 330.0,151.19 330.5,151.20 331.0,151.16 331.5,151.00 332.0,150.66 332.5,150.11 333.0,149.36 333.5,148.49 334.0,147.64 334.5,146.99 335.0,146.68 335.5,146.79 336.0,147.25 336.5,147.95 337.0,148.70 337.5,149.32 338.0,149.66 338.5,149.61 339.0,149.11 339.5,148.16 340.0,146.83 340.5,145.31 341.0,143.88 341.5,142.86 342.0,142.49 342.5,142.89 343.0,143.96 343.5,145.45 344.0,147.07 344.5,148.55 345.0,149.71 345.5,150.47 346.0,150.80 346.5,150.68 347.0,150.08 347.5,149.06 348.0,147.86 348.5,146.85 349.0,146.42 349.5,146.73 350.0,147.65 350.5,148.81 351.0,149.86 351.5,150.61 352.0,151.07 352.5,151.32 353.0,151.44 353.5,151.51 354.0,151.54 354.5,151.55 355.0,151.55 355.5,151.53 356.0,151.52 356.5,151.51 357.0,151.51 357.5,151.53 358.0,151.54 358.5,151.53 359.0,151.46 359.5,151.28 360.0,150.89 360.5,150.20 361.0,149.13 361.5,147.68 362.0,145.94 362.5,144.14 363.0,142.61 363.5,141.67 364.0,141.55 364.5,142.27 365.0,143.65 365.5,145.40 366.0,147.18 366.5,148.73 367.0,149.94 367.5,150.78 368.0,151.30 368.5,151.58 369.0,151.72 369.5,151.75 370.0,151.73 370.5,151.67 371.0,151.60 371.5,151.51 372.0,151.40 372.5,151.22 373.0,150.91 373.5,150.35 374.0,149.41 374.5,147.94 375.0,145.87 375.5,143.28 376.0,140.45 376.5,137.84 377.0,136.01 377.5,135.38 378.0,136.13 378.5,138.08 379.0,140.79 379.5,143.71 380.0,146.37 380.5,148.46 381.0,149.90 381.5,150.71 382.0,150.97 382.5,150.67 383.0,149.69 383.5,147.85 384.0,144.98 384.5,141.15 385.0,136.86 385.5,133.00 386.0,130.61 386.5,130.43 387.0,132.52 387.5,136.25 388.0,140.57 388.5,144.54 389.0,147.59 389.5,149.58 390.0,150.71 390.5,151.25 391.0,151.48 391.5,151.54 392.0,151.54 392.5,151.50 393.0,151.44 393.5,151.31 394.0,151.07 394.5,150.65 395.0,149.97 395.5,148.96 396.0,147.58 396.5,145.90 397.0,144.04 397.5,142.25 398.0,140.80 398.5,139.95 399.0,139.87 399.5,140.57 400.0,141.91 400.5,143.67 401.0,145.54 401.5,147.28 402.0,148.72 402.5,149.80 403.0,150.53 403.5,150.95 404.0,151.15 404.5,151.18 405.0,151.10 405.5,150.94 406.0,150.70 406.5,150.39 407.0,149.98 407.5,149.47 408.0,148.82 408.5,148.02 409.0,147.05 409.5,145.90 410.0,144.56 410.5,143.06 411.0,141.41 411.5,139.65 412.0,137.81 412.5,135.96 413.0,134.15 413.5,132.43 414.0,130.86 414.5,129.50 415.0,128.39 415.5,127.56 416.0,127.05 416.5,126.88 417.0,127.04 417.5,127.54 418.0,128.35 418.5,129.46 419.0,130.82 419.5,132.39 420.0,134.10 420.5,135.92 421.0,137.77 421.5,139.60 422.0,141.37 422.5,143.02 423.0,144.53 423.5,145.87 424.0,147.04 424.5,148.03 425.0,148.86 425.5,149.54 426.0,150.08 426.5,150.50 427.0,150.81 427.5,150.98 428.0,151.00 428.5,150.83 429.0,150.49 429.5,150.04 430.0,149.65 430.5,149.45 431.0,149.53 431.5,149.84 432.0,150.25 432.5,150.61 433.0,150.88 433.5,151.06 434.0,151.19 434.5,151.30 435.0,151.40 435.5,151.51 436.0,151.60 436.5,151.68 437.0,151.74 437.5,151.76 438.0,151.74 438.5,151.70 439.0,151.65 439.5,151.58 440.0,151.52 440.5,151.47 441.0,151.43 441.5,151.40 442.0,151.34 442.5,151.23 443.0,151.04 443.5,150.74 444.0,150.39 444.5,150.09 445.0,149.96 445.5,150.04 446.0,150.29 446.5,150.61 447.0,150.91 447.5,151.14 448.0,151.29 448.5,151.40 449.0,151.49 449.5,151.56 450.0,151.63 450.5,151.68 451.0,151.71 451.5,151.72 452.0,151.70 452.5,151.67 453.0,151.61 453.5,151.55 454.0,151.49 454.5,151.43 455.0,151.37 455.5,151.26 456.0,151.03 456.5,150.57 457.0,149.77 457.5,148.62 458.0,147.33 458.5,146.28 459.0,145.88 459.5,146.29 460.0,147.36 460.5,148.68 461.0,149.88 461.5,150.74 462.0,151.27 462.5,151.56 463.0,151.70 463.5,151.76 464.0,151.74 464.5,151.66 465.0,151.49 465.5,151.23 466.0,150.86 466.5,150.39 467.0,149.82 467.5,149.20 468.0,148.57 468.5,148.00 469.0,147.55 469.5,147.29 470.0,147.24 470.5,147.40 471.0,147.68 471.5,147.96 472.0,148.07 472.5,147.86 473.0,147.20 473.5,146.09 474.0,144.65 474.5,143.16 475.0,142.00 475.5,141.47 476.0,141.74 476.5,142.77 477.0,144.32 477.5,146.05 478.0,147.62 478.5,148.76 479.0,149.26 479.5,148.91 480.0,147.48 480.5,144.80 481.0,140.91 481.5,136.29 482.0,131.89 482.5,128.87 483.0,128.16 483.5,130.02 484.0,133.86 484.5,138.61 485.0,143.12 485.5,146.69 486.0,149.07 486.5,150.43 487.0,151.09 487.5,151.33 488.0,151.39 488.5,151.37 489.0,151.35 489.5,151.34 490.0,151.35 490.5,151.37 491.0,151.38 491.5,151.37 492.0,151.27 492.5,151.08 493.0,150.77 493.5,150.40 494.0,150.09 494.5,149.95 495.0,150.04 495.5,150.32 496.0,150.68 496.5,151.02 497.0,151.29 497.5,151.47 498.0,151.59 498.5,151.67 499.0,151.71 499.5,151.72 500.0,151.70 500.5,151.65 501.0,151.57 501.5,151.46 502.0,151.34 502.5,151.21 503.0,151.05 503.5,150.87 504.0,150.67 504.5,150.42 505.0,150.14 505.5,149.84 506.0,149.55 506.5,149.30 507.0,149.13 507.5,149.08 508.0,149.14 508.5,149.34 509.0,149.62 509.5,149.97 510.0,150.34 510.5,150.68 511.0,150.98 511.5,151.20 512.0,151.35 512.5,151.43 513.0,151.45 513.5,151.43 514.0,151.37 514.5,151.31 515.0,151.24 515.5,151.19 516.0,151.17 516.5,151.18 517.0,151.24 517.5,151.32 518.0,151.43 518.5,151.55 519.0,151.67 519.5,151.76 520.0,151.83 520.5,151.85 521.0,151.84 521.5,151.78 522.0,151.70 522.5,151.60 523.0,151.50 523.5,151.41 524.0,151.34 524.5,151.30 525.0,151.28 525.5,151.29 526.0,151.32 526.5,151.36 527.0,151.40 527.5,151.44 528.0,151.47 528.5,151.49 529.0,151.50 529.5,151.51" fill="none" stroke="#111111" stroke-width="1.7" stroke-linejoin="round"/>
<line x1="285.09999999999997" y1="152.7" x2="529.4" y2="152.7" stroke="#111" stroke-width="1.6"/>
<line x1="285.70" y1="152.7" x2="285.70" y2="156.89999999999998" stroke="#111" stroke-width="1.3"/>
<line x1="300.90" y1="152.7" x2="300.90" y2="155.7" stroke="#111" stroke-width="1.3"/>
<line x1="316.10" y1="152.7" x2="316.10" y2="155.7" stroke="#111" stroke-width="1.3"/>
<line x1="331.30" y1="152.7" x2="331.30" y2="155.7" stroke="#111" stroke-width="1.3"/>
<line x1="346.50" y1="152.7" x2="346.50" y2="155.7" stroke="#111" stroke-width="1.3"/>
<line x1="361.70" y1="152.7" x2="361.70" y2="156.89999999999998" stroke="#111" stroke-width="1.3"/>
<line x1="376.90" y1="152.7" x2="376.90" y2="155.7" stroke="#111" stroke-width="1.3"/>
<line x1="392.10" y1="152.7" x2="392.10" y2="155.7" stroke="#111" stroke-width="1.3"/>
<line x1="407.30" y1="152.7" x2="407.30" y2="155.7" stroke="#111" stroke-width="1.3"/>
<line x1="422.50" y1="152.7" x2="422.50" y2="155.7" stroke="#111" stroke-width="1.3"/>
<line x1="437.70" y1="152.7" x2="437.70" y2="156.89999999999998" stroke="#111" stroke-width="1.3"/>
<line x1="452.90" y1="152.7" x2="452.90" y2="155.7" stroke="#111" stroke-width="1.3"/>
<line x1="468.10" y1="152.7" x2="468.10" y2="155.7" stroke="#111" stroke-width="1.3"/>
<line x1="483.30" y1="152.7" x2="483.30" y2="155.7" stroke="#111" stroke-width="1.3"/>
<line x1="498.50" y1="152.7" x2="498.50" y2="155.7" stroke="#111" stroke-width="1.3"/>
<line x1="513.70" y1="152.7" x2="513.70" y2="156.89999999999998" stroke="#111" stroke-width="1.3"/>
<line x1="528.90" y1="152.7" x2="528.90" y2="155.7" stroke="#111" stroke-width="1.3"/>
<text x="285.7" y="174.2" style="font-family:'Liberation Sans'" font-size="13.7" font-weight="normal" text-anchor="middle" >20</text>
<text x="361.7" y="174.2" style="font-family:'Liberation Sans'" font-size="13.7" font-weight="normal" text-anchor="middle" >25</text>
<text x="437.7" y="174.2" style="font-family:'Liberation Sans'" font-size="13.7" font-weight="normal" text-anchor="middle" >30</text>
<text x="513.7" y="174.2" style="font-family:'Liberation Sans'" font-size="13.7" font-weight="normal" text-anchor="middle" >35</text>
<text x="392.5" y="175.8" style="font-family:'Liberation Sans'" font-size="13.5" font-weight="bold" text-anchor="start" >2θ(°)</text>
<text x="0" y="0" style="font-family:'Liberation Sans'" font-size="14.6" font-weight="bold" transform="translate(282.8,138.4) rotate(-90)">Intensity (a.u.)</text>
<text x="287.4" y="39.300000000000004" style="font-family:'Liberation Sans'" font-size="13" font-weight="normal" text-anchor="start" letter-spacing="0.45">BaMn<tspan font-size="8.8" dx="0.6" dy="2.7" letter-spacing="0">b2</tspan><tspan dx="1.2" dy="-2.7">-C</tspan></text>
<text x="287.4" y="81.8" style="font-family:'Liberation Sans'" font-size="13" font-weight="normal" text-anchor="start" letter-spacing="0.45">BaMn<tspan font-size="8.8" dx="0.6" dy="2.7" letter-spacing="0">b2</tspan></text>
<text x="287.9" y="133.5" style="font-family:'Liberation Sans'" font-size="13" font-weight="normal" text-anchor="start" letter-spacing="0.45">BaMn<tspan font-size="8.8" dx="0.6" dy="2.7" letter-spacing="0">b2</tspan><tspan dx="1.2" dy="-2.7">-SiO</tspan><tspan font-size="8.8" dx="0.6" dy="2.7" letter-spacing="0">2</tspan></text>
<line x1="345.6" y1="152.7" x2="345.6" y2="17" stroke="#222222" stroke-width="1.4" stroke-dasharray="5.2 4.33"/>
<path d="M345.5 7.6000000000000005 L350.5 12.4 L345.5 17.2 L340.5 12.4 Z" fill="#000"/>
<line x1="385.8" y1="152.7" x2="385.8" y2="24" stroke="#222222" stroke-width="1.4" stroke-dasharray="5.2 4.33"/>
<path d="M386.2 10.8 L391.9 16.5 L386.2 22.2 L380.5 16.5 Z" fill="#fff" stroke="#222" stroke-width="1.1"/>
<line x1="457.5" y1="152.7" x2="457.5" y2="22" stroke="#222222" stroke-width="1.4" stroke-dasharray="5.2 4.33"/>
<circle cx="458.7" cy="15.6" r="4.9" fill="#000"/>
<line x1="482.9" y1="152.7" x2="482.9" y2="20.2" stroke="#222222" stroke-width="1.4" stroke-dasharray="5.2 4.33"/>
<path d="M482.4 10.3 L488.2 19.9 L476.59999999999997 19.9 Z" fill="#000"/>
<polyline points="27.5,255.32 28.0,255.21 28.5,255.12 29.0,255.05 29.5,255.00 30.0,254.99 30.5,255.00 31.0,255.05 31.5,255.11 32.0,255.19 32.5,255.27 33.0,255.35 33.5,255.41 34.0,255.44 34.5,255.44 35.0,255.39 35.5,255.25 36.0,254.96 36.5,254.44 37.0,253.65 37.5,252.65 38.0,251.64 38.5,250.96 39.0,250.83 39.5,251.30 40.0,252.15 40.5,253.08 41.0,253.83 41.5,254.34 42.0,254.62 42.5,254.75 43.0,254.82 43.5,254.84 44.0,254.84 44.5,254.82 45.0,254.80 45.5,254.76 46.0,254.73 46.5,254.69 47.0,254.65 47.5,254.62 48.0,254.59 48.5,254.56 49.0,254.53 49.5,254.51 50.0,254.47 50.5,254.43 51.0,254.39 51.5,254.33 52.0,254.27 52.5,254.20 53.0,254.13 53.5,254.07 54.0,254.01 54.5,253.97 55.0,253.90 55.5,253.77 56.0,253.46 56.5,252.76 57.0,251.40 57.5,249.11 58.0,245.80 58.5,241.73 59.0,237.65 59.5,234.57 60.0,233.40 60.5,234.53 61.0,237.58 61.5,241.64 62.0,245.68 62.5,248.96 63.0,251.23 63.5,252.56 64.0,253.23 64.5,253.52 65.0,253.63 65.5,253.67 66.0,253.69 66.5,253.72 67.0,253.74 67.5,253.75 68.0,253.75 68.5,253.73 69.0,253.67 69.5,253.57 70.0,253.43 70.5,253.25 71.0,253.03 71.5,252.79 72.0,252.53 72.5,252.26 73.0,251.99 73.5,251.75 74.0,251.54 74.5,251.37 75.0,251.26 75.5,251.20 76.0,251.20 76.5,251.25 77.0,251.35 77.5,251.50 78.0,251.67 78.5,251.83 79.0,251.93 79.5,251.84 80.0,251.41 80.5,250.42 81.0,248.84 81.5,246.92 82.0,245.23 82.5,244.47 83.0,245.02 83.5,246.69 84.0,248.88 84.5,250.91 85.0,252.38 85.5,253.23 86.0,253.59 86.5,253.60 87.0,253.36 87.5,252.90 88.0,252.22 88.5,251.35 89.0,250.39 89.5,249.47 90.0,248.80 90.5,248.53 91.0,248.74 91.5,249.39 92.0,250.34 92.5,251.39 93.0,252.37 93.5,253.16 94.0,253.72 94.5,254.06 95.0,254.22 95.5,254.26 96.0,254.22 96.5,254.14 97.0,254.04 97.5,253.94 98.0,253.84 98.5,253.77 99.0,253.71 99.5,253.66 100.0,253.60 100.5,253.53 101.0,253.41 101.5,253.22 102.0,252.98 102.5,252.70 103.0,252.44 103.5,252.27 104.0,252.23 104.5,252.34 105.0,252.59 105.5,252.92 106.0,253.27 106.5,253.58 107.0,253.82 107.5,253.99 108.0,254.08 108.5,254.11 109.0,254.08 109.5,253.97 110.0,253.75 110.5,253.38 111.0,252.78 111.5,251.89 112.0,250.65 112.5,249.06 113.0,247.16 113.5,245.09 114.0,243.03 114.5,241.25 115.0,240.00 115.5,239.47 116.0,239.75 116.5,240.80 117.0,242.45 117.5,244.48 118.0,246.61 118.5,248.62 119.0,250.35 119.5,251.71 120.0,252.69 120.5,253.34 121.0,253.73 121.5,253.92 122.0,253.97 122.5,253.91 123.0,253.67 123.5,252.88 124.0,250.76 124.5,246.20 125.0,238.68 125.5,229.73 126.0,223.12 126.5,222.49 127.0,228.25 127.5,237.16 128.0,245.20 128.5,250.32 129.0,252.66 129.5,253.24 130.0,252.82 130.5,251.71 131.0,250.07 131.5,248.19 132.0,246.59 132.5,245.77 133.0,245.96 133.5,246.93 134.0,248.13 134.5,248.99 135.0,249.15 135.5,248.49 136.0,247.15 136.5,245.49 137.0,244.02 137.5,243.25 138.0,243.39 138.5,244.26 139.0,245.43 139.5,246.50 140.0,247.25 140.5,247.69 141.0,247.94 141.5,248.12 142.0,248.31 142.5,248.53 143.0,248.80 143.5,249.10 144.0,249.43 144.5,249.75 145.0,250.05 145.5,250.27 146.0,250.37 146.5,250.27 147.0,249.88 147.5,249.05 148.0,247.66 148.5,245.55 149.0,242.62 149.5,238.82 150.0,234.26 150.5,229.14 151.0,223.86 151.5,218.90 152.0,214.79 152.5,212.02 153.0,210.91 153.5,211.57 154.0,213.85 154.5,217.43 155.0,221.85 155.5,226.62 156.0,231.33 156.5,235.68 157.0,239.50 157.5,242.74 158.0,245.43 158.5,247.62 159.0,249.39 159.5,250.79 160.0,251.89 160.5,252.72 161.0,253.34 161.5,253.77 162.0,254.07 162.5,254.26 163.0,254.37 163.5,254.43 164.0,254.44 164.5,254.42 165.0,254.38 165.5,254.33 166.0,254.25 166.5,254.14 167.0,253.96 167.5,253.63 168.0,253.09 168.5,252.35 169.0,251.53 169.5,250.88 170.0,250.63 170.5,250.91 171.0,251.59 171.5,252.43 172.0,253.16 172.5,253.67 173.0,253.96 173.5,254.10 174.0,254.16 174.5,254.18 175.0,254.21 175.5,254.24 176.0,254.28 176.5,254.34 177.0,254.40 177.5,254.46 178.0,254.52 178.5,254.55 179.0,254.53 179.5,254.42 180.0,254.16 180.5,253.68 181.0,252.98 181.5,252.20 182.0,251.53 182.5,251.21 183.0,251.34 183.5,251.83 184.0,252.48 184.5,253.08 185.0,253.52 185.5,253.80 186.0,253.98 186.5,254.11 187.0,254.21 187.5,254.30 188.0,254.39 188.5,254.46 189.0,254.51 189.5,254.54 190.0,254.54 190.5,254.52 191.0,254.48 191.5,254.43 192.0,254.37 192.5,254.29 193.0,254.17 193.5,253.89 194.0,253.28 194.5,252.02 195.0,249.84 195.5,246.73 196.0,243.24 196.5,240.40 197.0,239.31 197.5,240.45 198.0,243.33 198.5,246.86 199.0,250.00 199.5,252.19 200.0,253.44 200.5,254.03 201.0,254.28 201.5,254.37 202.0,254.40 202.5,254.42 203.0,254.43 203.5,254.43 204.0,254.40 204.5,254.34 205.0,254.23 205.5,254.05 206.0,253.81 206.5,253.49 207.0,253.09 207.5,252.62 208.0,252.10 208.5,251.57 209.0,251.05 209.5,250.59 210.0,250.22 210.5,249.94 211.0,249.75 211.5,249.58 212.0,249.37 212.5,249.06 213.0,248.63 213.5,248.14 214.0,247.72 214.5,247.51 215.0,247.67 215.5,248.24 216.0,249.14 216.5,250.19 217.0,251.13 217.5,251.63 218.0,251.27 218.5,249.63 219.0,246.46 219.5,242.09 220.0,237.62 220.5,234.62 221.0,234.33 221.5,236.92 222.0,241.31 222.5,245.97 223.0,249.71 223.5,252.13 224.0,253.42 224.5,254.01 225.0,254.24 225.5,254.32 226.0,254.36 226.5,254.39 227.0,254.42 227.5,254.44 228.0,254.45 228.5,254.40 229.0,254.21 229.5,253.75 230.0,252.83 230.5,251.28 231.0,249.02 231.5,246.25 232.0,243.46 232.5,241.35 233.0,240.51 233.5,241.21 234.0,243.20 234.5,245.89 235.0,248.59 235.5,250.82 236.0,252.38 236.5,253.34 237.0,253.87 237.5,254.14 238.0,254.29 238.5,254.38 239.0,254.44 239.5,254.48 240.0,254.51 240.5,254.52 241.0,254.51 241.5,254.48 242.0,254.44 242.5,254.40 243.0,254.35 243.5,254.32 244.0,254.30 244.5,254.29 245.0,254.31 245.5,254.35 246.0,254.41 246.5,254.47 247.0,254.55 247.5,254.62 248.0,254.68 248.5,254.72 249.0,254.74 249.5,254.74 250.0,254.71 250.5,254.67 251.0,254.61 251.5,254.53 252.0,254.46 252.5,254.39 253.0,254.33 253.5,254.29 254.0,254.26 254.5,254.26 255.0,254.27 255.5,254.29 256.0,254.32 256.5,254.36 257.0,254.39 257.5,254.42 258.0,254.45 258.5,254.46 259.0,254.47 259.5,254.48 260.0,254.48 260.5,254.49 261.0,254.50 261.5,254.51 262.0,254.53 262.5,254.56 263.0,254.60 263.5,254.63 264.0,254.66 264.5,254.68 265.0,254.68 265.5,254.67 266.0,254.65" fill="none" stroke="#b4b4b4" stroke-width="1.6" stroke-linejoin="round"/>
<polyline points="27.5,300.13 28.0,300.06 28.5,299.97 29.0,299.89 29.5,299.82 30.0,299.78 30.5,299.77 31.0,299.80 31.5,299.86 32.0,299.94 32.5,300.03 33.0,300.12 33.5,300.19 34.0,300.23 34.5,300.24 35.0,300.21 35.5,300.13 36.0,299.99 36.5,299.75 37.0,299.33 37.5,298.67 38.0,297.79 38.5,296.83 39.0,296.08 39.5,295.82 40.0,296.17 40.5,297.01 41.0,298.02 41.5,298.93 42.0,299.57 42.5,299.94 43.0,300.12 43.5,300.18 44.0,300.17 44.5,300.13 45.0,300.06 45.5,299.99 46.0,299.91 46.5,299.85 47.0,299.79 47.5,299.77 48.0,299.77 48.5,299.80 49.0,299.86 49.5,299.94 50.0,300.03 50.5,300.12 51.0,300.20 51.5,300.25 52.0,300.27 52.5,300.25 53.0,300.20 53.5,300.11 54.0,300.01 54.5,299.90 55.0,299.79 55.5,299.69 56.0,299.55 56.5,299.31 57.0,298.81 57.5,297.85 58.0,296.21 58.5,293.82 59.0,290.87 59.5,287.89 60.0,285.63 60.5,284.75 61.0,285.54 61.5,287.74 62.0,290.68 62.5,293.63 63.0,296.06 63.5,297.76 64.0,298.81 64.5,299.40 65.0,299.72 65.5,299.91 66.0,300.03 66.5,300.11 67.0,300.16 67.5,300.16 68.0,300.14 68.5,300.09 69.0,300.02 69.5,299.95 70.0,299.90 70.5,299.87 71.0,299.87 71.5,299.90 72.0,299.96 72.5,300.03 73.0,300.09 73.5,300.14 74.0,300.16 74.5,300.14 75.0,300.09 75.5,300.02 76.0,299.93 76.5,299.86 77.0,299.80 77.5,299.78 78.0,299.80 78.5,299.85 79.0,299.93 79.5,300.01 80.0,300.03 80.5,299.92 81.0,299.52 81.5,298.60 82.0,296.83 82.5,293.85 83.0,289.35 83.5,283.30 84.0,276.10 84.5,268.70 85.0,262.41 85.5,258.57 86.0,257.99 86.5,260.67 87.0,265.77 87.5,271.93 88.0,277.79 88.5,282.48 89.0,285.72 89.5,287.81 90.0,289.27 90.5,290.60 91.0,292.05 91.5,293.64 92.0,295.24 92.5,296.67 93.0,297.82 93.5,298.66 94.0,299.24 94.5,299.62 95.0,299.87 95.5,300.03 96.0,300.14 96.5,300.20 97.0,300.22 97.5,300.21 98.0,300.17 98.5,300.11 99.0,300.05 99.5,299.98 100.0,299.92 100.5,299.87 101.0,299.85 101.5,299.84 102.0,299.85 102.5,299.88 103.0,299.92 103.5,299.96 104.0,300.01 104.5,300.05 105.0,300.09 105.5,300.11 106.0,300.13 106.5,300.12 107.0,300.11 107.5,300.08 108.0,300.04 108.5,300.00 109.0,299.95 109.5,299.91 110.0,299.85 110.5,299.76 111.0,299.59 111.5,299.21 112.0,298.50 112.5,297.31 113.0,295.58 113.5,293.46 114.0,291.33 114.5,289.72 115.0,289.10 115.5,289.68 116.0,291.27 116.5,293.39 117.0,295.51 117.5,297.26 118.0,298.48 118.5,299.23 119.0,299.65 119.5,299.87 120.0,299.98 120.5,300.04 121.0,300.07 121.5,300.06 122.0,299.98 122.5,299.74 123.0,299.11 123.5,297.70 124.0,295.00 124.5,290.67 125.0,285.03 125.5,279.39 126.0,275.65 126.5,275.34 127.0,278.61 127.5,284.12 128.0,289.93 128.5,294.56 129.0,297.51 129.5,299.02 130.0,299.62 130.5,299.78 131.0,299.78 131.5,299.74 132.0,299.72 132.5,299.75 133.0,299.82 133.5,299.93 134.0,300.05 134.5,300.17 135.0,300.27 135.5,300.32 136.0,300.32 136.5,300.24 137.0,300.09 137.5,299.84 138.0,299.47 138.5,298.94 139.0,298.21 139.5,297.27 140.0,296.15 140.5,294.98 141.0,293.95 141.5,293.27 142.0,293.12 142.5,293.54 143.0,294.43 143.5,295.61 144.0,296.82 144.5,297.87 145.0,298.64 145.5,299.13 146.0,299.37 146.5,299.45 147.0,299.42 147.5,299.32 148.0,299.16 148.5,298.91 149.0,298.54 149.5,297.99 150.0,297.23 150.5,296.24 151.0,295.03 151.5,293.66 152.0,292.19 152.5,290.76 153.0,289.50 153.5,288.54 154.0,287.99 154.5,287.91 155.0,288.31 155.5,289.14 156.0,290.31 156.5,291.69 157.0,293.16 157.5,294.59 158.0,295.88 158.5,296.99 159.0,297.87 159.5,298.54 160.0,299.02 160.5,299.36 161.0,299.58 161.5,299.73 162.0,299.84 162.5,299.91 163.0,299.97 163.5,300.01 164.0,300.04 164.5,300.05 165.0,300.06 165.5,300.05 166.0,300.03 166.5,300.00 167.0,299.97 167.5,299.95 168.0,299.93 168.5,299.92 169.0,299.93 169.5,299.94 170.0,299.96 170.5,299.99 171.0,300.02 171.5,300.04 172.0,300.06 172.5,300.08 173.0,300.08 173.5,300.08 174.0,300.07 174.5,300.05 175.0,300.03 175.5,300.00 176.0,299.97 176.5,299.93 177.0,299.90 177.5,299.88 178.0,299.87 178.5,299.88 179.0,299.90 179.5,299.94 180.0,299.99 180.5,300.05 181.0,300.11 181.5,300.17 182.0,300.20 182.5,300.20 183.0,300.18 183.5,300.12 184.0,300.04 184.5,299.95 185.0,299.86 185.5,299.78 186.0,299.74 186.5,299.73 187.0,299.76 187.5,299.83 188.0,299.93 188.5,300.05 189.0,300.17 189.5,300.26 190.0,300.31 190.5,300.32 191.0,300.28 191.5,300.18 192.0,300.06 192.5,299.89 193.0,299.65 193.5,299.24 194.0,298.45 194.5,296.99 195.0,294.68 195.5,291.69 196.0,288.71 196.5,286.76 197.0,286.67 197.5,288.50 198.0,291.52 198.5,294.66 199.0,297.14 199.5,298.67 200.0,299.42 200.5,299.69 201.0,299.74 201.5,299.74 202.0,299.75 202.5,299.79 203.0,299.86 203.5,299.95 204.0,300.05 204.5,300.13 205.0,300.18 205.5,300.19 206.0,300.16 206.5,300.11 207.0,300.03 207.5,299.95 208.0,299.88 208.5,299.82 209.0,299.75 209.5,299.64 210.0,299.45 210.5,299.09 211.0,298.53 211.5,297.72 212.0,296.72 212.5,295.66 213.0,294.73 213.5,294.13 214.0,294.01 214.5,294.38 215.0,295.17 215.5,296.17 216.0,297.21 216.5,298.10 217.0,298.67 217.5,298.72 218.0,297.94 218.5,295.93 219.0,292.42 219.5,287.73 220.0,282.95 220.5,279.71 221.0,279.30 221.5,281.89 222.0,286.39 222.5,291.17 223.0,295.03 223.5,297.54 224.0,298.90 224.5,299.55 225.0,299.86 225.5,300.02 226.0,300.12 226.5,300.19 227.0,300.23 227.5,300.23 228.0,300.20 228.5,300.15 229.0,300.07 229.5,299.96 230.0,299.79 230.5,299.49 231.0,298.97 231.5,298.13 232.0,296.95 232.5,295.48 233.0,293.88 233.5,292.33 234.0,290.98 234.5,289.92 235.0,289.17 235.5,288.69 236.0,288.41 236.5,288.26 237.0,288.19 237.5,288.13 238.0,288.06 238.5,287.99 239.0,287.93 239.5,287.92 240.0,288.01 240.5,288.28 241.0,288.81 241.5,289.65 242.0,290.84 242.5,292.34 243.0,294.04 243.5,295.78 244.0,297.35 244.5,298.58 245.0,299.41 245.5,299.86 246.0,300.03 246.5,300.04 247.0,299.97 247.5,299.88 248.0,299.81 248.5,299.76 249.0,299.75 249.5,299.78 250.0,299.85 250.5,299.93 251.0,300.03 251.5,300.11 252.0,300.18 252.5,300.21 253.0,300.20 253.5,300.16 254.0,300.10 254.5,300.02 255.0,299.95 255.5,299.89 256.0,299.85 256.5,299.85 257.0,299.88 257.5,299.93 258.0,299.99 258.5,300.05 259.0,300.09 259.5,300.11 260.0,300.10 260.5,300.07 261.0,300.02 261.5,299.96 262.0,299.90 262.5,299.87 263.0,299.86 263.5,299.89 264.0,299.95 264.5,300.02 265.0,300.10 265.5,300.17 266.0,300.21" fill="none" stroke="#8e8e8e" stroke-width="1.6" stroke-linejoin="round"/>
<polyline points="27.5,345.41 28.0,345.45 28.5,345.50 29.0,345.55 29.5,345.59 30.0,345.62 30.5,345.64 31.0,345.64 31.5,345.63 32.0,345.61 32.5,345.57 33.0,345.54 33.5,345.50 34.0,345.47 34.5,345.44 35.0,345.42 35.5,345.39 36.0,345.36 36.5,345.27 37.0,345.06 37.5,344.61 38.0,343.82 38.5,342.70 39.0,341.43 39.5,340.41 40.0,340.03 40.5,340.46 41.0,341.51 41.5,342.72 42.0,343.63 42.5,343.89 43.0,343.39 43.5,342.23 44.0,340.76 44.5,339.49 45.0,338.97 45.5,339.39 46.0,340.59 46.5,342.08 47.0,343.42 47.5,344.37 48.0,344.93 48.5,345.23 49.0,345.39 49.5,345.49 50.0,345.57 50.5,345.63 51.0,345.67 51.5,345.69 52.0,345.69 52.5,345.67 53.0,345.63 53.5,345.57 54.0,345.51 54.5,345.46 55.0,345.41 55.5,345.38 56.0,345.36 56.5,345.36 57.0,345.36 57.5,345.35 58.0,345.29 58.5,345.09 59.0,344.68 59.5,343.98 60.0,343.05 60.5,342.10 61.0,341.47 61.5,341.41 62.0,341.94 62.5,342.85 63.0,343.82 63.5,344.60 64.0,345.11 64.5,345.37 65.0,345.49 65.5,345.52 66.0,345.52 66.5,345.50 67.0,345.47 67.5,345.44 68.0,345.40 68.5,345.38 69.0,345.36 69.5,345.36 70.0,345.38 70.5,345.41 71.0,345.46 71.5,345.51 72.0,345.57 72.5,345.62 73.0,345.67 73.5,345.69 74.0,345.69 74.5,345.67 75.0,345.62 75.5,345.57 76.0,345.50 76.5,345.44 77.0,345.38 77.5,345.34 78.0,345.31 78.5,345.29 79.0,345.24 79.5,345.11 80.0,344.81 80.5,344.25 81.0,343.43 81.5,342.49 82.0,341.72 82.5,341.43 83.0,341.74 83.5,342.53 84.0,343.50 84.5,344.33 85.0,344.86 85.5,345.03 86.0,344.81 86.5,344.14 87.0,342.99 87.5,341.47 88.0,339.94 88.5,338.91 89.0,338.80 89.5,339.65 90.0,341.11 90.5,342.66 91.0,343.91 91.5,344.72 92.0,345.17 92.5,345.40 93.0,345.51 93.5,345.58 94.0,345.62 94.5,345.66 95.0,345.67 95.5,345.67 96.0,345.64 96.5,345.60 97.0,345.54 97.5,345.48 98.0,345.41 98.5,345.35 99.0,345.31 99.5,345.29 100.0,345.30 100.5,345.33 101.0,345.38 101.5,345.45 102.0,345.52 102.5,345.58 103.0,345.64 103.5,345.67 104.0,345.68 104.5,345.67 105.0,345.64 105.5,345.59 106.0,345.54 106.5,345.49 107.0,345.44 107.5,345.41 108.0,345.40 108.5,345.39 109.0,345.40 109.5,345.41 110.0,345.39 110.5,345.30 111.0,345.07 111.5,344.59 112.0,343.67 112.5,342.08 113.0,339.53 113.5,335.79 114.0,330.77 114.5,324.63 115.0,317.89 115.5,311.40 116.0,306.16 116.5,303.12 117.0,302.86 117.5,305.44 118.0,310.34 118.5,316.68 119.0,323.42 119.5,329.67 120.0,334.87 120.5,338.77 121.0,341.45 121.5,343.12 122.0,343.99 122.5,344.21 123.0,343.70 123.5,342.20 124.0,339.26 124.5,334.55 125.0,328.14 125.5,320.85 126.0,314.21 126.5,310.03 127.0,309.59 127.5,313.02 128.0,319.25 128.5,326.52 129.0,333.19 129.5,338.30 130.0,341.65 130.5,343.58 131.0,344.56 131.5,345.03 132.0,345.27 132.5,345.41 133.0,345.52 133.5,345.60 134.0,345.66 134.5,345.70 135.0,345.70 135.5,345.68 136.0,345.64 136.5,345.58 137.0,345.52 137.5,345.47 138.0,345.43 138.5,345.40 139.0,345.40 139.5,345.41 140.0,345.44 140.5,345.47 141.0,345.50 141.5,345.52 142.0,345.53 142.5,345.53 143.0,345.51 143.5,345.48 144.0,345.46 144.5,345.43 145.0,345.41 145.5,345.40 146.0,345.37 146.5,345.31 147.0,345.16 147.5,344.83 148.0,344.25 148.5,343.34 149.0,342.07 149.5,340.53 150.0,338.92 150.5,337.53 151.0,336.65 151.5,336.48 152.0,337.04 152.5,338.14 153.0,339.45 153.5,340.60 154.0,341.25 154.5,341.18 155.0,340.33 155.5,338.80 156.0,336.90 156.5,335.04 157.0,333.69 157.5,333.22 158.0,333.77 158.5,335.21 159.0,337.21 159.5,339.37 160.0,341.31 160.5,342.84 161.0,343.90 161.5,344.56 162.0,344.93 162.5,345.12 163.0,345.23 163.5,345.30 164.0,345.36 164.5,345.41 165.0,345.45 165.5,345.43 166.0,345.27 166.5,344.79 167.0,343.69 167.5,341.56 168.0,338.00 168.5,332.90 169.0,326.67 169.5,320.44 170.0,315.75 170.5,313.97 171.0,315.66 171.5,320.28 172.0,326.45 172.5,332.63 173.0,337.72 173.5,341.28 174.0,343.45 174.5,344.61 175.0,345.16 175.5,345.41 176.0,345.51 176.5,345.56 177.0,345.57 177.5,345.57 178.0,345.53 178.5,345.38 179.0,344.97 179.5,343.97 180.0,341.87 180.5,338.21 181.0,332.99 181.5,327.12 182.0,322.35 182.5,320.50 183.0,322.34 183.5,327.08 184.0,332.84 184.5,337.71 185.0,340.53 185.5,340.88 186.0,338.86 186.5,334.97 187.0,330.29 187.5,326.42 188.0,324.94 188.5,326.50 189.0,330.46 189.5,335.34 190.0,339.66 190.5,342.69 191.0,344.42 191.5,345.23 192.0,345.52 192.5,345.54 193.0,345.36 193.5,344.88 194.0,343.81 194.5,341.64 195.0,337.94 195.5,332.70 196.0,326.84 196.5,322.11 197.0,320.34 197.5,322.30 198.0,327.19 198.5,333.17 199.0,338.47 199.5,342.17 200.0,344.27 200.5,345.24 201.0,345.56 201.5,345.58 202.0,345.46 202.5,345.25 203.0,344.94 203.5,344.50 204.0,343.94 204.5,343.35 205.0,342.92 205.5,342.81 206.0,343.10 206.5,343.68 207.0,344.36 207.5,344.96 208.0,345.36 208.5,345.56 209.0,345.59 209.5,345.52 210.0,345.35 210.5,345.12 211.0,344.83 211.5,344.47 212.0,344.05 212.5,343.60 213.0,343.13 213.5,342.71 214.0,342.36 214.5,342.15 215.0,342.09 215.5,342.16 216.0,342.29 216.5,342.31 217.0,341.90 217.5,340.61 218.0,337.92 218.5,333.42 219.0,327.18 219.5,320.04 220.0,313.55 220.5,309.52 221.0,309.26 221.5,312.89 222.0,319.32 222.5,326.77 223.0,333.58 223.5,338.78 224.0,342.14 224.5,344.01 225.0,344.87 225.5,345.17 226.0,345.22 226.5,345.18 227.0,345.14 227.5,345.14 228.0,345.18 228.5,345.26 229.0,345.38 229.5,345.51 230.0,345.64 230.5,345.76 231.0,345.84 231.5,345.87 232.0,345.86 232.5,345.80 233.0,345.70 233.5,345.58 234.0,345.45 234.5,345.33 235.0,345.24 235.5,345.19 236.0,345.18 236.5,345.21 237.0,345.28 237.5,345.37 238.0,345.47 238.5,345.57 239.0,345.65 239.5,345.70 240.0,345.73 240.5,345.72 241.0,345.68 241.5,345.62 242.0,345.55 242.5,345.49 243.0,345.43 243.5,345.40 244.0,345.38 244.5,345.38 245.0,345.39 245.5,345.38 246.0,345.31 246.5,345.13 247.0,344.81 247.5,344.36 248.0,343.90 248.5,343.58 249.0,343.52 249.5,343.74 250.0,344.15 250.5,344.59 251.0,344.96 251.5,345.22 252.0,345.37 252.5,345.47 253.0,345.54 253.5,345.59 254.0,345.63 254.5,345.66 255.0,345.66 255.5,345.63 256.0,345.57 256.5,345.44 257.0,345.17 257.5,344.69 258.0,343.90 258.5,342.82 259.0,341.62 259.5,340.66 260.0,340.31 260.5,340.73 261.0,341.75 261.5,343.00 262.0,344.11 262.5,344.91 263.0,345.38 263.5,345.62 264.0,345.70 264.5,345.71 265.0,345.68 265.5,345.62 266.0,345.54" fill="none" stroke="#111111" stroke-width="1.7" stroke-linejoin="round"/>
<line x1="26.4" y1="346.2" x2="266.1" y2="346.2" stroke="#111" stroke-width="1.6"/>
<line x1="27.00" y1="346.2" x2="27.00" y2="350.4" stroke="#111" stroke-width="1.3"/>
<line x1="41.90" y1="346.2" x2="41.90" y2="349.2" stroke="#111" stroke-width="1.3"/>
<line x1="56.80" y1="346.2" x2="56.80" y2="349.2" stroke="#111" stroke-width="1.3"/>
<line x1="71.70" y1="346.2" x2="71.70" y2="349.2" stroke="#111" stroke-width="1.3"/>
<line x1="86.60" y1="346.2" x2="86.60" y2="349.2" stroke="#111" stroke-width="1.3"/>
<line x1="101.50" y1="346.2" x2="101.50" y2="350.4" stroke="#111" stroke-width="1.3"/>
<line x1="116.40" y1="346.2" x2="116.40" y2="349.2" stroke="#111" stroke-width="1.3"/>
<line x1="131.30" y1="346.2" x2="131.30" y2="349.2" stroke="#111" stroke-width="1.3"/>
<line x1="146.20" y1="346.2" x2="146.20" y2="349.2" stroke="#111" stroke-width="1.3"/>
<line x1="161.10" y1="346.2" x2="161.10" y2="349.2" stroke="#111" stroke-width="1.3"/>
<line x1="176.00" y1="346.2" x2="176.00" y2="350.4" stroke="#111" stroke-width="1.3"/>
<line x1="190.90" y1="346.2" x2="190.90" y2="349.2" stroke="#111" stroke-width="1.3"/>
<line x1="205.80" y1="346.2" x2="205.80" y2="349.2" stroke="#111" stroke-width="1.3"/>
<line x1="220.70" y1="346.2" x2="220.70" y2="349.2" stroke="#111" stroke-width="1.3"/>
<line x1="235.60" y1="346.2" x2="235.60" y2="349.2" stroke="#111" stroke-width="1.3"/>
<line x1="250.50" y1="346.2" x2="250.50" y2="350.4" stroke="#111" stroke-width="1.3"/>
<line x1="265.40" y1="346.2" x2="265.40" y2="349.2" stroke="#111" stroke-width="1.3"/>
<text x="27.0" y="366.5" style="font-family:'Liberation Sans'" font-size="13.7" font-weight="normal" text-anchor="middle" >20</text>
<text x="101.5" y="366.5" style="font-family:'Liberation Sans'" font-size="13.7" font-weight="normal" text-anchor="middle" >25</text>
<text x="176.0" y="366.5" style="font-family:'Liberation Sans'" font-size="13.7" font-weight="normal" text-anchor="middle" >30</text>
<text x="250.5" y="366.5" style="font-family:'Liberation Sans'" font-size="13.7" font-weight="normal" text-anchor="middle" >35</text>
<text x="131.3" y="367.5" style="font-family:'Liberation Sans'" font-size="13.5" font-weight="bold" text-anchor="start" >2θ(°)</text>
<text x="0" y="0" style="font-family:'Liberation Sans'" font-size="14" font-weight="bold" transform="translate(22.0,334.9) rotate(-90)">Intensity (a.u.)</text>
<text x="27.9" y="224.7" style="font-family:'Liberation Sans'" font-size="13" font-weight="normal" text-anchor="start" letter-spacing="0.45">BaMn<tspan font-size="8.8" dx="0.5" dy="2.7" letter-spacing="0">a</tspan><tspan dx="1.2" dy="-2.7">-C</tspan></text>
<text x="31.3" y="276.5" style="font-family:'Liberation Sans'" font-size="13" font-weight="normal" text-anchor="start" letter-spacing="0.45">BaMn<tspan font-size="8.8" dx="0.5" dy="2.7" letter-spacing="0">a</tspan></text>
<text x="30.5" y="325.5" style="font-family:'Liberation Sans'" font-size="13" font-weight="normal" text-anchor="start" letter-spacing="0.45">BaMn<tspan font-size="8.8" dx="0.5" dy="2.7" letter-spacing="0">a</tspan><tspan dx="1.2" dy="-2.7">-SiO</tspan><tspan font-size="8.8" dx="0.6" dy="2.7" letter-spacing="0">2</tspan></text>
<line x1="85.8" y1="346.2" x2="85.8" y2="214" stroke="#222222" stroke-width="1.4" stroke-dasharray="5.2 4.33"/>
<path d="M86.0 200.8 L91.2 205.8 L86.0 210.8 L80.8 205.8 Z" fill="#000"/>
<line x1="126.3" y1="346.2" x2="126.3" y2="215" stroke="#222222" stroke-width="1.4" stroke-dasharray="5.2 4.33"/>
<path d="M125.8 201.8 L131.5 207.5 L125.8 213.2 L120.1 207.5 Z" fill="#fff" stroke="#222" stroke-width="1.1"/>
<line x1="196.3" y1="346.2" x2="196.3" y2="218" stroke="#222222" stroke-width="1.4" stroke-dasharray="5.2 4.33"/>
<circle cx="196.3" cy="210" r="5.0" fill="#000"/>
<line x1="220.8" y1="346.2" x2="220.8" y2="212.5" stroke="#222222" stroke-width="1.4" stroke-dasharray="5.2 4.33"/>
<path d="M221.3 204.5 L227.0 212.5 L215.60000000000002 212.5 Z" fill="#000"/>
<polyline points="288.0,247.88 288.5,247.78 289.0,247.68 289.5,247.61 290.0,247.59 290.5,247.61 291.0,247.68 291.5,247.78 292.0,247.91 292.5,248.04 293.0,248.15 293.5,248.24 294.0,248.28 294.5,248.28 295.0,248.23 295.5,248.14 296.0,248.00 296.5,247.82 297.0,247.60 297.5,247.36 298.0,247.11 298.5,246.86 299.0,246.64 299.5,246.46 300.0,246.34 300.5,246.30 301.0,246.34 301.5,246.45 302.0,246.63 302.5,246.85 303.0,247.10 303.5,247.36 304.0,247.62 304.5,247.86 305.0,248.08 305.5,248.25 306.0,248.37 306.5,248.43 307.0,248.44 307.5,248.40 308.0,248.32 308.5,248.22 309.0,248.11 309.5,248.01 310.0,247.93 310.5,247.87 311.0,247.83 311.5,247.80 312.0,247.78 312.5,247.76 313.0,247.75 313.5,247.73 314.0,247.73 314.5,247.74 315.0,247.77 315.5,247.83 316.0,247.92 316.5,248.03 317.0,248.15 317.5,248.27 318.0,248.36 318.5,248.41 319.0,248.42 319.5,248.38 320.0,248.30 320.5,248.18 321.0,248.05 321.5,247.92 322.0,247.81 322.5,247.73 323.0,247.66 323.5,247.62 324.0,247.56 324.5,247.47 325.0,247.33 325.5,247.14 326.0,246.92 326.5,246.70 327.0,246.55 327.5,246.51 328.0,246.60 328.5,246.81 329.0,247.10 329.5,247.41 330.0,247.70 330.5,247.93 331.0,248.07 331.5,248.14 332.0,248.13 332.5,248.08 333.0,247.98 333.5,247.88 334.0,247.79 334.5,247.72 335.0,247.69 335.5,247.70 336.0,247.75 336.5,247.84 337.0,247.94 337.5,248.04 338.0,248.12 338.5,248.17 339.0,248.18 339.5,248.14 340.0,248.03 340.5,247.81 341.0,247.43 341.5,246.79 342.0,245.81 342.5,244.45 343.0,242.75 343.5,240.89 344.0,239.16 344.5,237.91 345.0,237.43 345.5,237.83 346.0,239.01 346.5,240.69 347.0,242.53 347.5,244.24 348.0,245.64 348.5,246.67 349.0,247.36 349.5,247.81 350.0,248.08 350.5,248.23 351.0,248.30 351.5,248.30 352.0,248.25 352.5,248.17 353.0,248.07 353.5,247.97 354.0,247.88 354.5,247.82 355.0,247.78 355.5,247.78 356.0,247.80 356.5,247.83 357.0,247.87 357.5,247.90 358.0,247.92 358.5,247.93 359.0,247.94 359.5,247.96 360.0,247.98 360.5,248.02 361.0,248.07 361.5,248.12 362.0,248.17 362.5,248.20 363.0,248.18 363.5,248.11 364.0,247.95 364.5,247.70 365.0,247.35 365.5,246.91 366.0,246.39 366.5,245.80 367.0,245.19 367.5,244.58 368.0,244.01 368.5,243.53 369.0,243.17 369.5,242.95 370.0,242.87 370.5,242.89 371.0,242.95 371.5,242.92 372.0,242.66 372.5,242.00 373.0,240.81 373.5,239.01 374.0,236.67 374.5,234.02 375.0,231.42 375.5,229.30 376.0,228.08 376.5,227.99 377.0,229.05 377.5,231.01 378.0,233.47 378.5,235.94 379.0,238.02 379.5,239.47 380.0,240.31 380.5,240.70 381.0,240.93 381.5,241.29 382.0,241.93 382.5,242.87 383.0,243.99 383.5,245.11 384.0,246.05 384.5,246.67 385.0,246.79 385.5,246.18 386.0,244.54 386.5,241.69 387.0,237.91 387.5,234.10 388.0,231.55 388.5,231.32 389.0,233.50 389.5,237.19 390.0,241.08 390.5,244.17 391.0,246.10 391.5,247.02 392.0,247.22 392.5,246.91 393.0,246.17 393.5,245.07 394.0,243.83 394.5,242.85 395.0,242.50 395.5,242.96 396.0,244.04 396.5,245.33 397.0,246.44 397.5,247.16 398.0,247.44 398.5,247.28 399.0,246.67 399.5,245.59 400.0,244.17 400.5,242.75 401.0,241.81 401.5,241.75 402.0,242.60 402.5,243.99 403.0,245.41 403.5,246.47 404.0,247.00 404.5,247.03 405.0,246.73 405.5,246.28 406.0,245.91 406.5,245.78 407.0,245.96 407.5,246.36 408.0,246.82 408.5,247.14 409.0,247.15 409.5,246.72 410.0,245.69 410.5,243.84 411.0,240.93 411.5,236.75 412.0,231.24 412.5,224.60 413.0,217.41 413.5,210.54 414.0,205.02 414.5,201.81 415.0,201.48 415.5,204.10 416.0,209.17 416.5,215.80 417.0,222.94 417.5,229.68 418.0,235.41 418.5,239.84 419.0,243.00 419.5,245.10 420.0,246.42 420.5,247.20 421.0,247.65 421.5,247.90 422.0,248.04 422.5,248.11 423.0,248.14 423.5,248.15 424.0,248.16 424.5,248.16 425.0,248.17 425.5,248.19 426.0,248.20 426.5,248.21 427.0,248.20 427.5,248.16 428.0,248.09 428.5,247.97 429.0,247.79 429.5,247.49 430.0,247.02 430.5,246.32 431.0,245.42 431.5,244.52 432.0,243.89 432.5,243.81 433.0,244.34 433.5,245.29 434.0,246.33 434.5,247.20 435.0,247.77 435.5,248.07 436.0,248.19 436.5,248.20 437.0,248.17 437.5,248.13 438.0,248.09 438.5,248.06 439.0,248.04 439.5,248.02 440.0,247.99 440.5,247.95 441.0,247.89 441.5,247.82 442.0,247.70 442.5,247.52 443.0,247.22 443.5,246.80 444.0,246.28 444.5,245.79 445.0,245.51 445.5,245.59 446.0,246.02 446.5,246.66 447.0,247.29 447.5,247.77 448.0,248.03 448.5,248.12 449.0,248.10 449.5,248.03 450.0,247.95 450.5,247.88 451.0,247.84 451.5,247.82 452.0,247.83 452.5,247.85 453.0,247.88 453.5,247.90 454.0,247.91 454.5,247.88 455.0,247.76 455.5,247.38 456.0,246.43 456.5,244.42 457.0,240.89 457.5,235.84 458.0,230.15 458.5,225.53 459.0,223.75 459.5,225.57 460.0,230.20 460.5,235.86 461.0,240.81 461.5,244.16 462.0,245.91 462.5,246.54 463.0,246.55 463.5,246.28 464.0,245.94 464.5,245.62 465.0,245.36 465.5,245.15 466.0,245.00 466.5,244.90 467.0,244.83 467.5,244.78 468.0,244.73 468.5,244.70 469.0,244.66 469.5,244.64 470.0,244.62 470.5,244.61 471.0,244.60 471.5,244.59 472.0,244.57 472.5,244.57 473.0,244.58 473.5,244.62 474.0,244.72 474.5,244.89 475.0,245.15 475.5,245.50 476.0,245.93 476.5,246.41 477.0,246.90 477.5,247.36 478.0,247.75 478.5,248.03 479.0,248.20 479.5,248.18 480.0,247.84 480.5,246.92 481.0,245.06 481.5,241.94 482.0,237.70 482.5,233.20 483.0,229.84 483.5,228.93 484.0,230.83 484.5,234.73 485.0,239.16 485.5,242.89 486.0,245.39 486.5,246.76 487.0,247.38 487.5,247.63 488.0,247.74 488.5,247.82 489.0,247.92 489.5,248.03 490.0,248.15 490.5,248.26 491.0,248.30 491.5,248.23 492.0,247.93 492.5,247.21 493.0,245.88 493.5,243.74 494.0,240.80 494.5,237.36 495.0,234.10 495.5,231.83 496.0,231.23 496.5,232.47 497.0,235.15 497.5,238.49 498.0,241.69 498.5,244.24 499.0,245.98 499.5,247.01 500.0,247.55 500.5,247.81 501.0,247.95 501.5,248.04 502.0,248.12 502.5,248.20 503.0,248.27 503.5,248.33 504.0,248.36 504.5,248.35 505.0,248.30 505.5,248.22 506.0,248.11 506.5,247.98 507.0,247.86 507.5,247.76 508.0,247.69 508.5,247.67 509.0,247.68 509.5,247.73 510.0,247.80 510.5,247.88 511.0,247.95 511.5,248.00 512.0,248.04 512.5,248.05 513.0,248.06 513.5,248.06 514.0,248.06 514.5,248.07 515.0,248.10 515.5,248.13 516.0,248.17 516.5,248.20 517.0,248.20 517.5,248.18 518.0,248.14 518.5,248.07 519.0,247.98 519.5,247.90 520.0,247.83 520.5,247.78 521.0,247.77 521.5,247.79 522.0,247.83 522.5,247.90 523.0,247.97 523.5,248.03 524.0,248.07 524.5,248.08 525.0,248.07 525.5,248.04 526.0,248.00 526.5,247.97 527.0,247.96 527.5,247.96 528.0,247.99 528.5,248.03 529.0,248.08 529.5,248.12 530.0,248.15" fill="none" stroke="#b4b4b4" stroke-width="1.6" stroke-linejoin="round"/>
<polyline points="288.0,296.58 288.5,296.60 289.0,296.62 289.5,296.63 290.0,296.63 290.5,296.61 291.0,296.56 291.5,296.48 292.0,296.39 292.5,296.28 293.0,296.18 293.5,296.10 294.0,296.06 294.5,296.06 295.0,296.12 295.5,296.21 296.0,296.32 296.5,296.42 297.0,296.50 297.5,296.51 298.0,296.45 298.5,296.29 299.0,296.05 299.5,295.76 300.0,295.44 300.5,295.16 301.0,294.97 301.5,294.91 302.0,294.97 302.5,295.15 303.0,295.38 303.5,295.63 304.0,295.85 304.5,296.02 305.0,296.12 305.5,296.17 306.0,296.18 306.5,296.16 307.0,296.13 307.5,296.10 308.0,296.08 308.5,296.07 309.0,296.06 309.5,296.04 310.0,296.01 310.5,295.96 311.0,295.89 311.5,295.82 312.0,295.74 312.5,295.68 313.0,295.65 313.5,295.66 314.0,295.72 314.5,295.82 315.0,295.94 315.5,296.06 316.0,296.15 316.5,296.19 317.0,296.14 317.5,296.00 318.0,295.75 318.5,295.42 319.0,295.01 319.5,294.58 320.0,294.19 320.5,293.92 321.0,293.81 321.5,293.90 322.0,294.16 322.5,294.54 323.0,294.97 323.5,295.36 324.0,295.64 324.5,295.80 325.0,295.83 325.5,295.76 326.0,295.63 326.5,295.48 327.0,295.35 327.5,295.26 328.0,295.23 328.5,295.25 329.0,295.32 329.5,295.41 330.0,295.50 330.5,295.52 331.0,295.51 331.5,295.47 332.0,295.38 332.5,295.28 333.0,295.16 333.5,295.04 334.0,294.94 334.5,294.87 335.0,294.81 335.5,294.76 336.0,294.72 336.5,294.67 337.0,294.61 337.5,294.52 338.0,294.42 338.5,294.31 339.0,294.20 339.5,294.10 340.0,293.99 340.5,293.85 341.0,293.59 341.5,293.10 342.0,292.26 342.5,291.01 343.0,289.35 343.5,287.28 344.0,284.67 344.5,281.17 345.0,276.40 345.5,270.30 346.0,263.36 346.5,256.74 347.0,251.93 347.5,250.15 348.0,251.87 348.5,256.61 349.0,263.11 349.5,269.83 350.0,275.48 350.5,279.35 351.0,281.43 351.5,282.21 352.0,282.41 352.5,282.69 353.0,283.46 353.5,284.80 354.0,286.53 354.5,288.36 355.0,290.01 355.5,291.29 356.0,292.16 356.5,292.66 357.0,292.89 357.5,292.95 358.0,292.94 358.5,292.90 359.0,292.88 359.5,292.91 360.0,292.97 360.5,293.07 361.0,293.18 361.5,293.28 362.0,293.35 362.5,293.37 363.0,293.34 363.5,293.25 364.0,293.12 364.5,292.98 365.0,292.85 365.5,292.81 366.0,292.82 366.5,292.88 367.0,292.99 367.5,293.13 368.0,293.28 368.5,293.43 369.0,293.55 369.5,293.63 370.0,293.67 370.5,293.67 371.0,293.64 371.5,293.58 372.0,293.44 372.5,293.14 373.0,292.54 373.5,291.44 374.0,289.69 374.5,287.29 375.0,284.54 375.5,282.03 376.0,280.44 376.5,280.27 377.0,281.59 377.5,283.99 378.0,286.81 378.5,289.44 379.0,291.51 379.5,292.95 380.0,293.86 380.5,294.38 381.0,294.68 381.5,294.85 382.0,294.92 382.5,294.92 383.0,294.84 383.5,294.69 384.0,294.46 384.5,294.03 385.0,293.19 385.5,291.61 386.0,288.93 386.5,285.16 387.0,280.95 387.5,277.59 388.0,276.40 388.5,277.93 389.0,281.58 389.5,285.98 390.0,289.83 390.5,292.48 391.0,293.93 391.5,294.56 392.0,294.75 392.5,294.77 393.0,294.75 393.5,294.74 394.0,294.77 394.5,294.82 395.0,294.89 395.5,294.97 396.0,295.06 396.5,295.14 397.0,295.21 397.5,295.27 398.0,295.31 398.5,295.33 399.0,295.29 399.5,295.14 400.0,294.83 400.5,294.28 401.0,293.44 401.5,292.29 402.0,290.93 402.5,289.53 403.0,288.36 403.5,287.66 404.0,287.63 404.5,288.26 405.0,289.43 405.5,290.88 406.0,292.35 406.5,293.63 407.0,294.59 407.5,295.22 408.0,295.55 408.5,295.65 409.0,295.59 409.5,295.41 410.0,295.15 410.5,294.84 411.0,294.46 411.5,294.03 412.0,293.54 412.5,293.00 413.0,292.43 413.5,291.90 414.0,291.45 414.5,291.16 415.0,291.07 415.5,291.20 416.0,291.55 416.5,292.07 417.0,292.69 417.5,293.35 418.0,293.99 418.5,294.56 419.0,295.04 419.5,295.41 420.0,295.69 420.5,295.86 421.0,295.95 421.5,295.98 422.0,295.96 422.5,295.93 423.0,295.89 423.5,295.87 424.0,295.88 424.5,295.93 425.0,296.01 425.5,296.10 426.0,296.20 426.5,296.27 427.0,296.31 427.5,296.29 428.0,296.23 428.5,296.12 429.0,295.99 429.5,295.86 430.0,295.76 430.5,295.71 431.0,295.72 431.5,295.78 432.0,295.90 432.5,296.04 433.0,296.18 433.5,296.30 434.0,296.37 434.5,296.39 435.0,296.35 435.5,296.26 436.0,296.15 436.5,296.03 437.0,295.93 437.5,295.86 438.0,295.84 438.5,295.87 439.0,295.93 439.5,296.01 440.0,296.10 440.5,296.16 441.0,296.21 441.5,296.22 442.0,296.20 442.5,296.16 443.0,296.12 443.5,296.09 444.0,296.07 444.5,296.07 445.0,296.10 445.5,296.13 446.0,296.16 446.5,296.19 447.0,296.20 447.5,296.18 448.0,296.15 448.5,296.10 449.0,296.05 449.5,296.02 450.0,296.00 450.5,296.01 451.0,296.05 451.5,296.11 452.0,296.17 452.5,296.23 453.0,296.27 453.5,296.29 454.0,296.28 454.5,296.24 455.0,296.18 455.5,296.06 456.0,295.80 456.5,295.19 457.0,293.92 457.5,291.62 458.0,288.19 458.5,284.12 459.0,280.53 459.5,278.75 460.0,279.52 460.5,282.52 461.0,286.55 461.5,290.33 462.0,293.10 462.5,294.75 463.0,295.56 463.5,295.88 464.0,295.93 464.5,295.83 465.0,295.61 465.5,295.31 466.0,294.93 466.5,294.51 467.0,294.09 467.5,293.69 468.0,293.36 468.5,293.11 469.0,292.97 469.5,292.93 470.0,292.99 470.5,293.11 471.0,293.28 471.5,293.45 472.0,293.59 472.5,293.67 473.0,293.68 473.5,293.61 474.0,293.50 474.5,293.37 475.0,293.26 475.5,293.21 476.0,293.27 476.5,293.44 477.0,293.74 477.5,294.14 478.0,294.61 478.5,295.09 479.0,295.51 479.5,295.74 480.0,295.57 480.5,294.67 481.0,292.57 481.5,288.94 482.0,283.93 482.5,278.59 483.0,274.61 483.5,273.56 484.0,275.87 484.5,280.56 485.0,285.91 485.5,290.41 486.0,293.42 486.5,295.07 487.0,295.81 487.5,296.09 488.0,296.17 488.5,296.21 489.0,296.24 489.5,296.29 490.0,296.36 490.5,296.41 491.0,296.43 491.5,296.41 492.0,296.31 492.5,296.11 493.0,295.81 493.5,295.39 494.0,294.87 494.5,294.23 495.0,293.47 495.5,292.61 496.0,291.65 496.5,290.58 497.0,289.42 497.5,288.18 498.0,286.89 498.5,285.60 499.0,284.37 499.5,283.28 500.0,282.38 500.5,281.76 501.0,281.47 501.5,281.53 502.0,281.96 502.5,282.73 503.0,283.76 503.5,284.97 504.0,286.23 504.5,287.42 505.0,288.41 505.5,289.12 506.0,289.52 506.5,289.68 507.0,289.73 507.5,289.85 508.0,290.19 508.5,290.83 509.0,291.73 509.5,292.76 510.0,293.79 510.5,294.66 511.0,295.32 511.5,295.74 512.0,295.97 512.5,296.06 513.0,296.08 513.5,296.09 514.0,296.11 514.5,296.18 515.0,296.28 515.5,296.42 516.0,296.56 516.5,296.70 517.0,296.79 517.5,296.84 518.0,296.81 518.5,296.72 519.0,296.59 519.5,296.43 520.0,296.27 520.5,296.15 521.0,296.08 521.5,296.07 522.0,296.14 522.5,296.26 523.0,296.41 523.5,296.56 524.0,296.69 524.5,296.77 525.0,296.79 525.5,296.75 526.0,296.67 526.5,296.55 527.0,296.44 527.5,296.35 528.0,296.29 528.5,296.29 529.0,296.33 529.5,296.40 530.0,296.49" fill="none" stroke="#8e8e8e" stroke-width="1.6" stroke-linejoin="round"/>
<polyline points="288.0,344.64 288.5,344.43 289.0,344.21 289.5,343.98 290.0,343.74 290.5,343.48 291.0,343.21 291.5,342.90 292.0,342.57 292.5,342.36 293.0,342.08 293.5,341.71 294.0,341.28 294.5,340.83 295.0,340.45 295.5,340.21 296.0,340.19 296.5,340.41 297.0,340.82 297.5,341.33 298.0,341.84 298.5,342.24 299.0,342.49 299.5,342.56 300.0,342.44 300.5,342.15 301.0,341.69 301.5,341.09 302.0,340.40 302.5,339.73 303.0,339.19 303.5,338.91 304.0,338.96 304.5,339.35 305.0,339.98 305.5,340.71 306.0,341.43 306.5,342.02 307.0,342.44 307.5,342.68 308.0,342.78 308.5,342.77 309.0,342.65 309.5,342.43 310.0,342.13 310.5,341.74 311.0,341.33 311.5,340.94 312.0,340.66 312.5,340.56 313.0,340.65 313.5,340.92 314.0,341.29 314.5,341.69 315.0,342.04 315.5,342.29 316.0,342.39 316.5,342.28 317.0,341.87 317.5,340.97 318.0,339.39 318.5,336.96 319.0,333.65 319.5,329.67 320.0,325.55 320.5,322.05 321.0,319.94 321.5,319.73 322.0,321.46 322.5,324.73 323.0,328.79 323.5,332.88 324.0,336.40 324.5,339.07 325.0,340.87 325.5,341.95 326.0,342.51 326.5,342.74 327.0,342.76 327.5,342.64 328.0,342.42 328.5,342.12 329.0,341.76 329.5,341.40 330.0,341.09 330.5,340.91 331.0,340.91 331.5,341.10 332.0,341.44 332.5,341.87 333.0,342.30 333.5,342.65 334.0,342.85 334.5,342.87 335.0,342.69 335.5,342.33 336.0,341.88 336.5,341.49 337.0,341.27 337.5,341.29 338.0,341.53 338.5,341.85 339.0,342.14 339.5,342.31 340.0,342.30 340.5,342.08 341.0,341.62 341.5,340.93 342.0,340.05 342.5,339.12 343.0,338.29 343.5,337.75 344.0,337.59 344.5,337.78 345.0,338.16 345.5,338.51 346.0,338.62 346.5,338.43 347.0,338.04 347.5,337.70 348.0,337.66 348.5,338.06 349.0,338.85 349.5,339.84 350.0,340.82 350.5,341.63 351.0,342.21 351.5,342.57 352.0,342.79 352.5,342.92 353.0,343.02 353.5,343.10 354.0,343.16 354.5,343.22 355.0,343.26 355.5,343.29 356.0,343.30 356.5,343.32 357.0,343.34 357.5,343.37 358.0,343.42 358.5,343.48 359.0,343.55 359.5,343.61 360.0,343.66 360.5,343.68 361.0,343.67 361.5,343.63 362.0,343.55 362.5,343.43 363.0,343.27 363.5,343.07 364.0,342.82 364.5,342.50 365.0,342.12 365.5,341.66 366.0,341.13 366.5,340.53 367.0,339.88 367.5,339.22 368.0,338.58 368.5,338.02 369.0,337.58 369.5,337.31 370.0,337.22 370.5,337.33 371.0,337.62 371.5,338.03 372.0,338.52 372.5,339.00 373.0,339.38 373.5,339.54 374.0,339.38 374.5,338.78 375.0,337.65 375.5,335.94 376.0,333.68 376.5,331.02 377.0,328.21 377.5,325.59 378.0,323.53 378.5,322.35 379.0,322.26 379.5,323.28 380.0,325.26 380.5,327.89 381.0,330.83 381.5,333.72 382.0,336.30 382.5,338.41 383.0,339.98 383.5,340.98 384.0,341.33 384.5,340.80 385.0,339.00 385.5,335.55 386.0,330.50 386.5,324.77 387.0,320.11 387.5,318.34 388.0,320.21 388.5,324.96 389.0,330.80 389.5,335.99 390.0,339.64 390.5,341.74 391.0,342.73 391.5,343.11 392.0,343.18 392.5,343.12 393.0,342.99 393.5,342.81 394.0,342.61 394.5,342.39 395.0,342.16 395.5,341.94 396.0,341.74 396.5,341.59 397.0,341.50 397.5,341.48 398.0,341.54 398.5,341.67 399.0,341.85 399.5,342.05 400.0,342.26 400.5,342.49 401.0,342.68 401.5,342.82 402.0,342.93 402.5,343.00 403.0,343.05 403.5,343.09 404.0,343.13 404.5,343.15 405.0,343.15 405.5,343.12 406.0,343.03 406.5,342.87 407.0,342.62 407.5,342.26 408.0,341.78 408.5,341.16 409.0,340.41 409.5,339.51 410.0,338.48 410.5,337.27 411.0,335.94 411.5,334.51 412.0,333.02 412.5,331.51 413.0,330.01 413.5,328.59 414.0,327.30 414.5,326.20 415.0,325.35 415.5,324.78 416.0,324.53 416.5,324.62 417.0,325.05 417.5,325.79 418.0,326.81 418.5,328.06 419.0,329.46 419.5,330.97 420.0,332.52 420.5,334.04 421.0,335.48 421.5,336.83 422.0,338.04 422.5,339.12 423.0,340.07 423.5,340.89 424.0,341.59 424.5,342.19 425.0,342.70 425.5,343.13 426.0,343.49 426.5,343.77 427.0,343.98 427.5,344.12 428.0,344.18 428.5,344.16 429.0,344.00 429.5,343.57 430.0,342.62 430.5,340.78 431.0,337.76 431.5,333.68 432.0,329.37 432.5,326.20 433.0,325.43 433.5,327.41 434.0,331.32 434.5,335.76 435.0,339.50 435.5,342.01 436.0,343.39 436.5,344.01 437.0,344.22 437.5,344.24 438.0,344.20 438.5,344.14 439.0,344.08 439.5,344.03 440.0,343.99 440.5,343.92 441.0,343.76 441.5,343.33 442.0,342.37 442.5,340.60 443.0,337.96 443.5,334.81 444.0,332.04 444.5,330.67 445.0,331.28 445.5,333.59 446.0,336.64 446.5,339.31 447.0,340.82 447.5,340.87 448.0,339.57 448.5,337.41 449.0,335.21 449.5,333.87 450.0,333.99 450.5,335.54 451.0,337.87 451.5,340.19 452.0,341.96 452.5,343.06 453.0,343.64 453.5,343.92 454.0,344.06 454.5,344.15 455.0,344.22 455.5,344.23 456.0,344.08 456.5,343.59 457.0,342.46 457.5,340.37 458.0,337.26 458.5,333.55 459.0,330.27 459.5,328.62 460.0,329.27 460.5,331.93 461.0,335.54 461.5,338.96 462.0,341.49 462.5,343.04 463.0,343.85 463.5,344.21 464.0,344.37 464.5,344.42 465.0,344.42 465.5,344.38 466.0,344.32 466.5,344.25 467.0,344.17 467.5,344.10 468.0,344.05 468.5,344.00 469.0,343.94 469.5,343.85 470.0,343.69 470.5,343.42 471.0,342.97 471.5,342.32 472.0,341.44 472.5,340.37 473.0,339.17 473.5,337.96 474.0,336.90 474.5,336.13 475.0,335.78 475.5,335.90 476.0,336.47 476.5,337.40 477.0,338.54 477.5,339.75 478.0,340.85 478.5,341.70 479.0,342.11 479.5,341.80 480.0,340.32 480.5,337.12 481.0,331.70 481.5,324.06 482.0,315.03 482.5,306.41 483.0,300.46 483.5,298.99 484.0,302.50 484.5,309.86 485.0,318.98 485.5,327.68 486.0,334.54 486.5,339.11 487.0,341.65 487.5,342.69 488.0,342.75 488.5,342.23 489.0,341.48 489.5,340.86 490.0,340.65 490.5,340.98 491.0,341.70 491.5,342.52 492.0,343.13 492.5,343.35 493.0,343.15 493.5,342.70 494.0,342.24 494.5,342.00 495.0,342.10 495.5,342.48 496.0,342.97 496.5,343.43 497.0,343.75 497.5,343.95 498.0,344.08 498.5,344.18 499.0,344.27 499.5,344.36 500.0,344.44 500.5,344.50 501.0,344.54 501.5,344.56 502.0,344.55 502.5,344.53 503.0,344.49 503.5,344.44 504.0,344.40 504.5,344.37 505.0,344.35 505.5,344.34 506.0,344.34 506.5,344.34 507.0,344.35 507.5,344.36 508.0,344.36 508.5,344.36 509.0,344.36 509.5,344.36 510.0,344.36 510.5,344.37 511.0,344.39 511.5,344.43 512.0,344.46 512.5,344.50 513.0,344.54 513.5,344.57 514.0,344.58 514.5,344.56 515.0,344.53 515.5,344.49 516.0,344.43 516.5,344.37 517.0,344.32 517.5,344.28 518.0,344.26 518.5,344.24 519.0,344.21 519.5,344.10 520.0,343.88 520.5,343.54 521.0,343.13 521.5,342.78 522.0,342.65 522.5,342.78 523.0,343.11 523.5,343.52 524.0,343.86 524.5,344.09 525.0,344.20 525.5,344.25 526.0,344.29 526.5,344.33 527.0,344.39 527.5,344.47 528.0,344.55 528.5,344.62 529.0,344.68 529.5,344.70 530.0,344.70" fill="none" stroke="#111111" stroke-width="1.7" stroke-linejoin="round"/>
<line x1="287.4" y1="345.5" x2="529.6" y2="345.5" stroke="#111" stroke-width="1.6"/>
<line x1="288.00" y1="345.5" x2="288.00" y2="349.7" stroke="#111" stroke-width="1.3"/>
<line x1="363.40" y1="345.5" x2="363.40" y2="349.7" stroke="#111" stroke-width="1.3"/>
<line x1="438.80" y1="345.5" x2="438.80" y2="349.7" stroke="#111" stroke-width="1.3"/>
<line x1="514.20" y1="345.5" x2="514.20" y2="349.7" stroke="#111" stroke-width="1.3"/>
<text x="288.0" y="366.7" style="font-family:'Liberation Sans'" font-size="13.7" font-weight="normal" text-anchor="middle" >20</text>
<text x="363.4" y="366.7" style="font-family:'Liberation Sans'" font-size="13.7" font-weight="normal" text-anchor="middle" >25</text>
<text x="438.8" y="366.7" style="font-family:'Liberation Sans'" font-size="13.7" font-weight="normal" text-anchor="middle" >30</text>
<text x="514.2" y="366.7" style="font-family:'Liberation Sans'" font-size="13.7" font-weight="normal" text-anchor="middle" >35</text>
<text x="390" y="370.8" style="font-family:'Liberation Sans'" font-size="15" font-weight="bold" text-anchor="start" >2θ (°)</text>
<text x="0" y="0" style="font-family:'Liberation Sans'" font-size="14.3" font-weight="bold" transform="translate(282.1,320.8) rotate(-90)">Intensity (a.u.)</text>
<text x="290.09999999999997" y="224.7" style="font-family:'Liberation Sans'" font-size="13" font-weight="normal" text-anchor="start" letter-spacing="0.45">BaMn<tspan font-size="8.8" dx="0.5" dy="2.7" letter-spacing="0">AC</tspan><tspan dx="1.2" dy="-2.7">-C</tspan></text>
<text x="290.9" y="276.8" style="font-family:'Liberation Sans'" font-size="13" font-weight="normal" text-anchor="start" letter-spacing="0.45">BaMn<tspan font-size="8.8" dx="0.5" dy="2.7" letter-spacing="0">AC</tspan></text>
<text x="291.2" y="317.2" style="font-family:'Liberation Sans'" font-size="13" font-weight="normal" text-anchor="start" letter-spacing="0.45">BaMn<tspan font-size="8.8" dx="0.5" dy="2.7" letter-spacing="0">AC</tspan><tspan dx="1.2" dy="-2.7">-SiO</tspan><tspan font-size="8.8" dx="0.6" dy="2.7" letter-spacing="0">2</tspan></text>
<line x1="347.5" y1="345.5" x2="347.5" y2="196" stroke="#222222" stroke-width="1.4" stroke-dasharray="5.2 4.33"/>
<path d="M347.5 202.7 L352.5 207.5 L347.5 212.3 L342.5 207.5 Z" fill="#000"/>
<line x1="388" y1="345.5" x2="388" y2="216" stroke="#222222" stroke-width="1.4" stroke-dasharray="5.2 4.33"/>
<path d="M387.8 204.2 L393.1 209.5 L387.8 214.8 L382.5 209.5 Z" fill="#fff" stroke="#222" stroke-width="1.1"/>
<line x1="459" y1="345.5" x2="459" y2="214" stroke="#222222" stroke-width="1.4" stroke-dasharray="5.2 4.33"/>
<circle cx="459" cy="206.8" r="5.2" fill="#000"/>
<line x1="483.4" y1="345.5" x2="483.4" y2="211.2" stroke="#222222" stroke-width="1.4" stroke-dasharray="5.2 4.33"/>
<path d="M483.4 201.6 L489.09999999999997 211.0 L477.7 211.0 Z" fill="#000"/>
<polyline points="22.5,433.50 23.0,433.41 23.5,433.31 24.0,433.18 24.5,433.02 25.0,432.84 25.5,432.65 26.0,432.46 26.5,432.27 27.0,432.11 27.5,431.96 28.0,431.85 28.5,431.77 29.0,431.71 29.5,431.67 30.0,431.63 30.5,431.58 31.0,431.53 31.5,431.45 32.0,431.35 32.5,431.23 33.0,431.08 33.5,430.93 34.0,430.77 34.5,430.61 35.0,430.46 35.5,430.31 36.0,430.15 36.5,429.96 37.0,429.74 37.5,429.46 38.0,429.12 38.5,428.75 39.0,428.38 39.5,428.07 40.0,427.85 40.5,427.74 41.0,427.75 41.5,427.83 42.0,427.93 42.5,428.04 43.0,428.11 43.5,428.15 44.0,428.15 44.5,428.14 45.0,428.10 45.5,428.05 46.0,427.99 46.5,427.90 47.0,427.81 47.5,427.69 48.0,427.56 48.5,427.43 49.0,427.29 49.5,427.16 50.0,427.03 50.5,426.83 51.0,426.64 51.5,426.46 52.0,426.28 52.5,426.09 53.0,425.90 53.5,425.70 54.0,425.48 54.5,425.24 55.0,424.99 55.5,424.71 56.0,424.33 56.5,423.59 57.0,421.79 57.5,417.78 58.0,410.52 58.5,400.66 59.0,391.51 59.5,387.64 60.0,391.22 60.5,400.25 61.0,409.98 61.5,417.05 62.0,420.85 62.5,422.39 63.0,422.85 63.5,422.94 64.0,422.92 64.5,422.89 65.0,422.84 65.5,422.76 66.0,422.56 66.5,422.16 67.0,421.50 67.5,420.63 68.0,419.73 68.5,419.12 69.0,419.03 69.5,419.48 70.0,420.28 70.5,421.12 71.0,421.77 71.5,422.16 72.0,422.35 72.5,422.43 73.0,422.45 73.5,422.45 74.0,422.36 74.5,422.08 75.0,421.41 75.5,420.17 76.0,418.34 76.5,416.25 77.0,414.51 77.5,413.74 78.0,414.14 78.5,415.28 79.0,416.23 79.5,416.15 80.0,414.72 80.5,412.40 81.0,410.29 81.5,409.51 82.0,410.58 82.5,413.14 83.0,416.25 83.5,419.00 84.0,420.89 84.5,421.90 85.0,422.25 85.5,422.08 86.0,421.45 86.5,420.29 87.0,418.60 87.5,416.65 88.0,414.95 88.5,414.14 89.0,414.54 89.5,416.00 90.0,417.97 90.5,419.82 91.0,421.20 91.5,422.04 92.0,422.45 92.5,422.60 93.0,422.61 93.5,422.54 94.0,422.44 94.5,422.33 95.0,422.24 95.5,422.17 96.0,422.14 96.5,422.15 97.0,422.20 97.5,422.27 98.0,422.33 98.5,422.32 99.0,422.12 99.5,421.55 100.0,420.41 100.5,418.58 101.0,416.28 101.5,414.07 102.0,412.70 102.5,412.70 103.0,414.03 103.5,416.11 104.0,418.24 104.5,419.92 105.0,421.02 105.5,421.67 106.0,422.03 106.5,422.25 107.0,422.38 107.5,422.46 108.0,422.48 108.5,422.44 109.0,422.35 109.5,422.22 110.0,422.07 110.5,421.89 111.0,421.66 111.5,421.26 112.0,420.54 112.5,419.34 113.0,417.65 113.5,415.76 114.0,414.25 114.5,413.72 115.0,414.41 115.5,416.05 116.0,418.01 116.5,419.68 117.0,420.78 117.5,421.33 118.0,421.50 118.5,421.49 119.0,421.43 119.5,421.40 120.0,421.42 120.5,421.50 121.0,421.62 121.5,421.76 122.0,421.80 122.5,421.49 123.0,420.33 123.5,417.61 124.0,413.01 124.5,407.47 125.0,403.29 125.5,402.72 126.0,406.03 126.5,411.29 127.0,416.07 127.5,419.16 128.0,420.68 128.5,421.30 129.0,421.57 129.5,421.73 130.0,421.86 130.5,421.95 131.0,422.00 131.5,421.99 132.0,421.92 132.5,421.80 133.0,421.62 133.5,421.36 134.0,420.95 134.5,420.25 135.0,419.06 135.5,417.23 136.0,414.92 136.5,412.65 137.0,411.21 137.5,411.22 138.0,412.72 138.5,415.14 139.0,417.65 139.5,419.61 140.0,420.82 140.5,421.71 141.0,422.19 141.5,422.46 142.0,422.67 142.5,422.88 143.0,423.13 143.5,423.44 144.0,423.80 144.5,424.21 145.0,424.64 145.5,425.08 146.0,425.50 146.5,425.87 147.0,426.15 147.5,426.16 148.0,426.03 148.5,425.73 149.0,425.23 149.5,424.51 150.0,423.51 150.5,422.22 151.0,420.63 151.5,418.75 152.0,416.67 152.5,414.47 153.0,412.33 153.5,410.42 154.0,408.94 154.5,408.04 155.0,407.85 155.5,408.39 156.0,409.64 156.5,411.46 157.0,413.70 157.5,416.16 158.0,418.66 158.5,421.04 159.0,423.19 159.5,425.05 160.0,426.60 160.5,427.86 161.0,428.85 161.5,429.62 162.0,430.19 162.5,430.45 163.0,430.59 163.5,430.63 164.0,430.58 164.5,430.49 165.0,430.38 165.5,430.27 166.0,430.17 166.5,430.10 167.0,430.04 167.5,429.97 168.0,429.85 168.5,429.66 169.0,429.45 169.5,429.31 170.0,429.31 170.5,429.49 171.0,429.80 171.5,430.12 172.0,430.36 172.5,430.47 173.0,430.48 173.5,430.42 174.0,430.34 174.5,430.28 175.0,430.25 175.5,430.27 176.0,430.31 176.5,430.36 177.0,430.39 177.5,430.34 178.0,430.19 178.5,429.90 179.0,429.54 179.5,429.22 180.0,429.04 180.5,429.06 181.0,429.26 181.5,429.54 182.0,429.81 182.5,430.01 183.0,430.16 183.5,430.29 184.0,430.40 184.5,430.51 185.0,430.62 185.5,430.71 186.0,430.77 186.5,430.78 187.0,430.72 187.5,430.55 188.0,430.26 188.5,429.86 189.0,429.42 189.5,429.05 190.0,428.87 190.5,428.95 191.0,429.22 191.5,429.59 192.0,429.94 192.5,430.21 193.0,430.38 193.5,430.48 194.0,430.53 194.5,430.54 195.0,430.53 195.5,430.48 196.0,430.40 196.5,430.26 197.0,430.01 197.5,429.62 198.0,429.10 198.5,428.53 199.0,428.09 199.5,427.96 200.0,428.21 200.5,428.75 201.0,429.39 201.5,429.94 202.0,430.31 202.5,430.46 203.0,430.45 203.5,430.28 204.0,429.97 204.5,429.54 205.0,429.00 205.5,428.43 206.0,427.90 206.5,427.51 207.0,427.33 207.5,427.32 208.0,427.36 208.5,427.22 209.0,426.63 209.5,425.41 210.0,423.57 210.5,421.41 211.0,419.50 211.5,418.44 212.0,418.62 212.5,420.02 213.0,422.24 213.5,424.69 214.0,426.86 214.5,428.49 215.0,429.54 215.5,430.13 216.0,430.43 216.5,430.56 217.0,430.60 217.5,430.56 218.0,430.36 218.5,429.66 219.0,427.69 219.5,423.42 220.0,416.35 220.5,407.93 221.0,401.69 221.5,401.04 222.0,406.37 222.5,414.66 223.0,422.16 223.5,426.96 224.0,429.26 224.5,430.09 225.0,430.31 225.5,430.34 226.0,430.33 226.5,430.33 227.0,430.34 227.5,430.37 228.0,430.41 228.5,430.47 229.0,430.53 229.5,430.58 230.0,430.63 230.5,430.67 231.0,430.68 231.5,430.68 232.0,430.65 232.5,430.61 233.0,430.57 233.5,430.52 234.0,430.48 234.5,430.45 235.0,430.45 235.5,430.46 236.0,430.48 236.5,430.51 237.0,430.55 237.5,430.57 238.0,430.58 238.5,430.58 239.0,430.55 239.5,430.50 240.0,430.43 240.5,430.35 241.0,430.26 241.5,430.16 242.0,430.04 242.5,429.87 243.0,429.65 243.5,429.36 244.0,429.02 244.5,428.68 245.0,428.40 245.5,428.25 246.0,428.28 246.5,428.49 247.0,428.82 247.5,429.20 248.0,429.56 248.5,429.85 249.0,430.05 249.5,430.17 250.0,430.24 250.5,430.29 251.0,430.34 251.5,430.39 252.0,430.46 252.5,430.53 253.0,430.60 253.5,430.64 254.0,430.65 254.5,430.63 255.0,430.58 255.5,430.50 256.0,430.41 256.5,430.32 257.0,430.24 257.5,430.19 258.0,430.18 258.5,430.22 259.0,430.29 259.5,430.40 260.0,430.52 260.5,430.64 261.0,430.75 261.5,430.83 262.0,430.86 262.5,430.85 263.0,430.80 263.5,430.71 264.0,430.60 264.5,430.48 265.0,430.38 265.5,430.30 266.0,430.26" fill="none" stroke="#b4b4b4" stroke-width="1.6" stroke-linejoin="round"/>
<polyline points="24.0,475.55 24.5,475.52 25.0,475.49 25.5,475.46 26.0,475.43 26.5,475.42 27.0,475.43 27.5,475.45 28.0,475.48 28.5,475.52 29.0,475.55 29.5,475.57 30.0,475.58 30.5,475.58 31.0,475.55 31.5,475.52 32.0,475.47 32.5,475.43 33.0,475.37 33.5,475.32 34.0,475.25 34.5,475.16 35.0,475.04 35.5,474.89 36.0,474.74 36.5,474.59 37.0,474.48 37.5,474.44 38.0,474.47 38.5,474.57 39.0,474.72 39.5,474.88 40.0,475.04 40.5,475.17 41.0,475.27 41.5,475.35 42.0,475.41 42.5,475.45 43.0,475.49 43.5,475.50 44.0,475.51 44.5,475.49 45.0,475.45 45.5,475.39 46.0,475.30 46.5,475.18 47.0,475.01 47.5,474.80 48.0,474.53 48.5,474.19 49.0,473.78 49.5,473.29 50.0,472.75 50.5,472.17 51.0,471.61 51.5,471.10 52.0,470.71 52.5,470.46 53.0,470.38 53.5,470.48 54.0,470.70 54.5,470.95 55.0,471.05 55.5,470.80 56.0,469.98 56.5,468.50 57.0,466.50 57.5,464.39 58.0,462.80 58.5,462.28 59.0,463.07 59.5,464.96 60.0,467.45 60.5,469.92 61.0,471.96 61.5,473.41 62.0,474.32 62.5,474.84 63.0,475.13 63.5,475.29 64.0,475.40 64.5,475.46 65.0,475.50 65.5,475.52 66.0,475.51 66.5,475.48 67.0,475.44 67.5,475.40 68.0,475.35 68.5,475.31 69.0,475.27 69.5,475.23 70.0,475.20 70.5,475.17 71.0,475.14 71.5,475.11 72.0,475.08 72.5,475.05 73.0,475.03 73.5,475.02 74.0,475.03 74.5,475.06 75.0,475.11 75.5,475.19 76.0,475.28 76.5,475.38 77.0,475.48 77.5,475.55 78.0,475.60 78.5,475.58 79.0,475.48 79.5,475.23 80.0,474.69 80.5,473.62 81.0,471.71 81.5,468.64 82.0,464.32 82.5,459.10 83.0,453.88 83.5,449.92 84.0,448.31 84.5,449.44 85.0,452.81 85.5,457.24 86.0,461.44 86.5,464.53 87.0,466.22 87.5,466.76 88.0,466.63 88.5,466.33 89.0,466.22 89.5,466.49 90.0,467.18 90.5,468.21 91.0,469.44 91.5,470.71 92.0,471.89 92.5,472.88 93.0,473.64 93.5,474.17 94.0,474.50 94.5,474.67 95.0,474.74 95.5,474.75 96.0,474.76 96.5,474.77 97.0,474.81 97.5,474.89 98.0,475.00 98.5,475.14 99.0,475.28 99.5,475.41 100.0,475.50 100.5,475.55 101.0,475.55 101.5,475.49 102.0,475.39 102.5,475.25 103.0,475.09 103.5,474.94 104.0,474.82 104.5,474.73 105.0,474.68 105.5,474.67 106.0,474.68 106.5,474.68 107.0,474.64 107.5,474.55 108.0,474.39 108.5,474.18 109.0,473.95 109.5,473.76 110.0,473.66 110.5,473.68 111.0,473.81 111.5,474.02 112.0,474.28 112.5,474.53 113.0,474.76 113.5,474.94 114.0,475.07 114.5,475.15 115.0,475.18 115.5,475.17 116.0,475.12 116.5,475.04 117.0,474.93 117.5,474.83 118.0,474.74 118.5,474.68 119.0,474.67 119.5,474.69 120.0,474.77 120.5,474.82 121.0,474.84 121.5,474.62 122.0,473.78 122.5,471.71 123.0,468.00 123.5,463.20 124.0,459.13 124.5,457.90 125.0,460.18 125.5,464.58 126.0,468.92 126.5,471.88 127.0,473.38 127.5,473.98 128.0,474.18 128.5,474.27 129.0,474.33 129.5,474.37 130.0,474.39 130.5,474.37 131.0,474.31 131.5,474.23 132.0,474.12 132.5,474.01 133.0,473.90 133.5,473.82 134.0,473.76 134.5,473.74 135.0,473.73 135.5,473.72 136.0,473.67 136.5,473.54 137.0,473.28 137.5,472.85 138.0,472.25 138.5,471.52 139.0,470.71 139.5,469.92 140.0,469.23 140.5,468.77 141.0,468.55 141.5,468.58 142.0,468.86 142.5,469.37 143.0,470.05 143.5,470.82 144.0,471.58 144.5,472.24 145.0,472.76 145.5,473.11 146.0,473.31 146.5,473.38 147.0,473.37 147.5,473.32 148.0,473.23 148.5,473.11 149.0,472.95 149.5,472.70 150.0,472.33 150.5,471.81 151.0,471.11 151.5,470.25 152.0,469.29 152.5,468.33 153.0,467.47 153.5,466.85 154.0,466.56 154.5,466.65 155.0,467.09 155.5,467.83 156.0,468.75 156.5,469.74 157.0,470.69 157.5,471.54 158.0,472.24 158.5,472.78 159.0,473.18 159.5,473.44 160.0,473.61 160.5,473.69 161.0,473.72 161.5,473.71 162.0,473.68 162.5,473.64 163.0,473.60 163.5,473.58 164.0,473.56 164.5,473.56 165.0,473.56 165.5,473.56 166.0,473.56 166.5,473.54 167.0,473.52 167.5,473.48 168.0,473.44 168.5,473.40 169.0,473.37 169.5,473.35 170.0,473.36 170.5,473.40 171.0,473.46 171.5,473.55 172.0,473.64 172.5,473.74 173.0,473.83 173.5,473.89 174.0,473.92 174.5,473.91 175.0,473.87 175.5,473.80 176.0,473.71 176.5,473.60 177.0,473.50 177.5,473.41 178.0,473.34 178.5,473.30 179.0,473.28 179.5,473.30 180.0,473.34 180.5,473.39 181.0,473.46 181.5,473.53 182.0,473.60 182.5,473.67 183.0,473.72 183.5,473.77 184.0,473.80 184.5,473.83 185.0,473.84 185.5,473.84 186.0,473.83 186.5,473.81 187.0,473.77 187.5,473.72 188.0,473.65 188.5,473.58 189.0,473.51 189.5,473.44 190.0,473.38 190.5,473.34 191.0,473.32 191.5,473.33 192.0,473.36 192.5,473.42 193.0,473.50 193.5,473.59 194.0,473.68 194.5,473.76 195.0,473.83 195.5,473.88 196.0,473.91 196.5,473.92 197.0,473.90 197.5,473.86 198.0,473.81 198.5,473.76 199.0,473.69 199.5,473.63 200.0,473.57 200.5,473.52 201.0,473.47 201.5,473.43 202.0,473.40 202.5,473.39 203.0,473.39 203.5,473.40 204.0,473.42 204.5,473.42 205.0,473.40 205.5,473.31 206.0,473.13 206.5,472.82 207.0,472.40 207.5,471.90 208.0,471.38 208.5,470.92 209.0,470.56 209.5,470.27 210.0,469.99 210.5,469.62 211.0,469.08 211.5,468.42 212.0,467.76 212.5,467.30 213.0,467.22 213.5,467.59 214.0,468.39 214.5,469.46 215.0,470.59 215.5,471.63 216.0,472.45 216.5,473.03 217.0,473.39 217.5,473.57 218.0,473.47 218.5,472.60 219.0,469.39 219.5,460.96 220.0,444.91 220.5,423.74 221.0,407.03 221.5,405.27 222.0,419.66 222.5,440.88 223.0,458.36 223.5,468.16 224.0,472.10 224.5,473.24 225.0,473.45 225.5,473.45 226.0,473.44 226.5,473.45 227.0,473.50 227.5,473.57 228.0,473.67 228.5,473.77 229.0,473.86 229.5,473.94 230.0,473.98 230.5,473.99 231.0,473.96 231.5,473.89 232.0,473.79 232.5,473.65 233.0,473.46 233.5,473.20 234.0,472.80 234.5,472.22 235.0,471.40 235.5,470.37 236.0,469.20 236.5,468.08 237.0,467.24 237.5,466.86 238.0,467.04 238.5,467.74 239.0,468.79 239.5,469.96 240.0,471.06 240.5,471.96 241.0,472.60 241.5,473.00 242.0,473.21 242.5,473.27 243.0,473.21 243.5,473.03 244.0,472.77 244.5,472.47 245.0,472.18 245.5,471.98 246.0,471.91 246.5,471.99 247.0,472.18 247.5,472.44 248.0,472.73 248.5,472.99 249.0,473.22 249.5,473.41 250.0,473.57 250.5,473.69 251.0,473.80 251.5,473.87 252.0,473.91 252.5,473.91 253.0,473.88 253.5,473.82 254.0,473.75 254.5,473.67 255.0,473.61 255.5,473.58 256.0,473.59 256.5,473.64 257.0,473.71 257.5,473.81 258.0,473.92 258.5,474.01 259.0,474.08 259.5,474.10 260.0,474.07 260.5,474.00 261.0,473.90 261.5,473.77 262.0,473.64 262.5,473.53 263.0,473.46 263.5,473.43 264.0,473.45 264.5,473.52 265.0,473.62 265.5,473.74 266.0,473.86" fill="none" stroke="#8e8e8e" stroke-width="1.6" stroke-linejoin="round"/>
<polyline points="24.0,517.16 24.5,517.15 25.0,517.13 25.5,517.09 26.0,517.05 26.5,517.01 27.0,516.99 27.5,516.97 28.0,516.97 28.5,516.98 29.0,517.00 29.5,517.01 30.0,517.03 30.5,517.03 31.0,517.01 31.5,516.97 32.0,516.89 32.5,516.77 33.0,516.59 33.5,516.35 34.0,516.04 34.5,515.70 35.0,515.36 35.5,515.10 36.0,514.97 36.5,515.00 37.0,515.20 37.5,515.51 38.0,515.84 38.5,516.11 39.0,516.23 39.5,516.17 40.0,515.90 40.5,515.47 41.0,514.94 41.5,514.44 42.0,514.08 42.5,513.96 43.0,514.10 43.5,514.47 44.0,514.99 44.5,515.54 45.0,516.01 45.5,516.32 46.0,516.41 46.5,516.22 47.0,515.70 47.5,514.81 48.0,513.55 48.5,512.01 49.0,510.37 49.5,508.94 50.0,508.01 50.5,507.80 51.0,508.38 51.5,509.59 52.0,511.17 52.5,512.77 53.0,514.10 53.5,514.95 54.0,515.16 54.5,514.64 55.0,513.31 55.5,511.17 56.0,508.38 56.5,505.27 57.0,502.38 57.5,500.32 58.0,499.56 58.5,500.28 59.0,502.31 59.5,505.17 60.0,508.25 60.5,511.04 61.0,513.25 61.5,514.78 62.0,515.73 62.5,516.24 63.0,516.49 63.5,516.60 64.0,516.65 64.5,516.70 65.0,516.76 65.5,516.84 66.0,516.94 66.5,517.05 67.0,517.16 67.5,517.25 68.0,517.33 68.5,517.38 69.0,517.39 69.5,517.37 70.0,517.32 70.5,517.25 71.0,517.16 71.5,517.07 72.0,516.98 72.5,516.91 73.0,516.86 73.5,516.82 74.0,516.81 74.5,516.81 75.0,516.81 75.5,516.82 76.0,516.83 76.5,516.84 77.0,516.83 77.5,516.78 78.0,516.65 78.5,516.33 79.0,515.71 79.5,514.71 80.0,513.41 80.5,512.11 81.0,511.26 81.5,511.24 82.0,512.06 82.5,513.37 83.0,514.68 83.5,515.54 84.0,515.75 84.5,515.29 85.0,514.37 85.5,513.33 86.0,512.59 86.5,512.45 87.0,512.97 87.5,513.92 88.0,514.95 88.5,515.80 89.0,516.37 89.5,516.69 90.0,516.86 90.5,516.95 91.0,516.99 91.5,517.01 92.0,517.01 92.5,516.99 93.0,516.97 93.5,516.95 94.0,516.93 94.5,516.92 95.0,516.93 95.5,516.96 96.0,517.00 96.5,517.05 97.0,517.10 97.5,517.15 98.0,517.18 98.5,517.20 99.0,517.19 99.5,517.17 100.0,517.13 100.5,517.07 101.0,517.01 101.5,516.96 102.0,516.90 102.5,516.86 103.0,516.81 103.5,516.75 104.0,516.66 104.5,516.50 105.0,516.27 105.5,515.97 106.0,515.63 106.5,515.30 107.0,515.06 107.5,514.95 108.0,515.02 108.5,515.23 109.0,515.55 109.5,515.91 110.0,516.26 110.5,516.55 111.0,516.76 111.5,516.87 112.0,516.84 112.5,516.55 113.0,515.85 113.5,514.51 114.0,512.37 114.5,509.47 115.0,506.18 115.5,503.18 116.0,501.27 116.5,501.02 117.0,502.51 117.5,505.25 118.0,508.48 118.5,511.46 119.0,513.78 119.5,515.32 120.0,516.20 120.5,516.58 121.0,516.48 121.5,515.75 122.0,514.03 122.5,510.97 123.0,506.57 123.5,501.61 124.0,497.57 124.5,495.99 125.0,497.53 125.5,501.54 126.0,506.48 126.5,510.87 127.0,513.95 127.5,515.71 128.0,516.55 128.5,516.88 129.0,516.98 129.5,516.98 130.0,516.94 130.5,516.86 131.0,516.75 131.5,516.57 132.0,516.29 132.5,515.87 133.0,515.29 133.5,514.60 134.0,513.86 134.5,513.21 135.0,512.80 135.5,512.71 136.0,512.99 136.5,513.55 137.0,514.26 137.5,514.99 138.0,515.61 138.5,516.07 139.0,516.37 139.5,516.54 140.0,516.63 140.5,516.69 141.0,516.74 141.5,516.79 142.0,516.85 142.5,516.92 143.0,516.99 143.5,517.05 144.0,517.09 144.5,517.11 145.0,517.11 145.5,517.09 146.0,517.03 146.5,516.94 147.0,516.80 147.5,516.58 148.0,516.25 148.5,515.78 149.0,515.13 149.5,514.27 150.0,513.16 150.5,511.83 151.0,510.31 151.5,508.67 152.0,507.04 152.5,505.54 153.0,504.33 153.5,503.53 154.0,503.23 154.5,503.47 155.0,504.22 155.5,505.41 156.0,506.90 156.5,508.55 157.0,510.23 157.5,511.81 158.0,513.21 158.5,514.36 159.0,515.27 159.5,515.93 160.0,516.38 160.5,516.67 161.0,516.84 161.5,516.92 162.0,516.95 162.5,516.96 163.0,516.96 163.5,516.97 164.0,516.98 164.5,516.99 165.0,517.00 165.5,517.00 166.0,516.95 166.5,516.81 167.0,516.53 167.5,516.06 168.0,515.39 168.5,514.64 169.0,514.03 169.5,513.78 170.0,514.00 170.5,514.60 171.0,515.34 171.5,516.03 172.0,516.53 172.5,516.85 173.0,517.04 173.5,517.14 174.0,517.18 174.5,517.20 175.0,517.20 175.5,517.18 176.0,517.15 176.5,517.11 177.0,517.08 177.5,517.05 178.0,517.01 178.5,516.95 179.0,516.82 179.5,516.55 180.0,516.12 180.5,515.55 181.0,514.96 181.5,514.54 182.0,514.44 182.5,514.66 183.0,515.05 183.5,515.38 184.0,515.49 184.5,515.34 185.0,515.04 185.5,514.81 186.0,514.81 186.5,515.11 187.0,515.63 187.5,516.20 188.0,516.69 188.5,517.03 189.0,517.22 189.5,517.31 190.0,517.32 190.5,517.29 191.0,517.24 191.5,517.17 192.0,517.09 192.5,517.03 193.0,516.97 193.5,516.92 194.0,516.89 194.5,516.88 195.0,516.86 195.5,516.86 196.0,516.85 196.5,516.84 197.0,516.83 197.5,516.81 198.0,516.79 198.5,516.77 199.0,516.74 199.5,516.68 200.0,516.57 200.5,516.38 201.0,516.09 201.5,515.70 202.0,515.25 202.5,514.82 203.0,514.48 203.5,514.32 204.0,514.39 204.5,514.65 205.0,515.03 205.5,515.43 206.0,515.75 206.5,515.91 207.0,515.87 207.5,515.61 208.0,515.15 208.5,514.48 209.0,513.66 209.5,512.73 210.0,511.80 210.5,510.97 211.0,510.35 211.5,510.05 212.0,510.10 212.5,510.52 213.0,511.23 213.5,512.13 214.0,513.10 214.5,514.04 215.0,514.87 215.5,515.52 216.0,515.95 216.5,516.05 217.0,515.64 217.5,514.35 218.0,511.67 218.5,507.11 219.0,500.51 219.5,492.44 220.0,484.36 220.5,478.27 221.0,475.97 221.5,478.19 222.0,484.21 222.5,492.25 223.0,500.32 223.5,506.96 224.0,511.61 224.5,514.44 225.0,515.95 225.5,516.66 226.0,516.96 226.5,517.06 227.0,517.08 227.5,517.05 228.0,517.01 228.5,516.96 229.0,516.91 229.5,516.87 230.0,516.85 230.5,516.85 231.0,516.87 231.5,516.91 232.0,516.97 232.5,517.02 233.0,517.07 233.5,517.12 234.0,517.14 234.5,517.14 235.0,517.12 235.5,517.09 236.0,517.05 236.5,517.00 237.0,516.96 237.5,516.93 238.0,516.92 238.5,516.92 239.0,516.94 239.5,516.98 240.0,517.01 240.5,517.04 241.0,517.07 241.5,517.08 242.0,517.08 242.5,517.06 243.0,517.02 243.5,516.99 244.0,516.95 244.5,516.92 245.0,516.90 245.5,516.90 246.0,516.91 246.5,516.93 247.0,516.97 247.5,517.00 248.0,517.04 248.5,517.06 249.0,517.06 249.5,517.05 250.0,517.03 250.5,517.00 251.0,516.96 251.5,516.93 252.0,516.92 252.5,516.92 253.0,516.93 253.5,516.97 254.0,517.02 254.5,517.08 255.0,517.14 255.5,517.19 256.0,517.22 256.5,517.22 257.0,517.20 257.5,517.15 258.0,517.08 258.5,517.00 259.0,516.92 259.5,516.84 260.0,516.78 260.5,516.74 261.0,516.73 261.5,516.74 262.0,516.78 262.5,516.83 263.0,516.89 263.5,516.94 264.0,517.00 264.5,517.04 265.0,517.08 265.5,517.10 266.0,517.11" fill="none" stroke="#111111" stroke-width="1.7" stroke-linejoin="round"/>
<line x1="24.099999999999998" y1="517.9" x2="266.3" y2="517.9" stroke="#111" stroke-width="1.6"/>
<line x1="24.70" y1="517.9" x2="24.70" y2="522.1" stroke="#111" stroke-width="1.3"/>
<line x1="39.76" y1="517.9" x2="39.76" y2="520.9" stroke="#111" stroke-width="1.3"/>
<line x1="54.82" y1="517.9" x2="54.82" y2="520.9" stroke="#111" stroke-width="1.3"/>
<line x1="69.88" y1="517.9" x2="69.88" y2="520.9" stroke="#111" stroke-width="1.3"/>
<line x1="84.94" y1="517.9" x2="84.94" y2="520.9" stroke="#111" stroke-width="1.3"/>
<line x1="100.00" y1="517.9" x2="100.00" y2="522.1" stroke="#111" stroke-width="1.3"/>
<line x1="115.06" y1="517.9" x2="115.06" y2="520.9" stroke="#111" stroke-width="1.3"/>
<line x1="130.12" y1="517.9" x2="130.12" y2="520.9" stroke="#111" stroke-width="1.3"/>
<line x1="145.18" y1="517.9" x2="145.18" y2="520.9" stroke="#111" stroke-width="1.3"/>
<line x1="160.24" y1="517.9" x2="160.24" y2="520.9" stroke="#111" stroke-width="1.3"/>
<line x1="175.30" y1="517.9" x2="175.30" y2="522.1" stroke="#111" stroke-width="1.3"/>
<line x1="190.36" y1="517.9" x2="190.36" y2="520.9" stroke="#111" stroke-width="1.3"/>
<line x1="205.42" y1="517.9" x2="205.42" y2="520.9" stroke="#111" stroke-width="1.3"/>
<line x1="220.48" y1="517.9" x2="220.48" y2="520.9" stroke="#111" stroke-width="1.3"/>
<line x1="235.54" y1="517.9" x2="235.54" y2="520.9" stroke="#111" stroke-width="1.3"/>
<line x1="250.60" y1="517.9" x2="250.60" y2="522.1" stroke="#111" stroke-width="1.3"/>
<line x1="265.66" y1="517.9" x2="265.66" y2="520.9" stroke="#111" stroke-width="1.3"/>
<text x="24.7" y="539.2" style="font-family:'Liberation Sans'" font-size="13.7" font-weight="normal" text-anchor="middle" >20</text>
<text x="100.0" y="539.2" style="font-family:'Liberation Sans'" font-size="13.7" font-weight="normal" text-anchor="middle" >25</text>
<text x="175.3" y="539.2" style="font-family:'Liberation Sans'" font-size="13.7" font-weight="normal" text-anchor="middle" >30</text>
<text x="250.6" y="539.2" style="font-family:'Liberation Sans'" font-size="13.7" font-weight="normal" text-anchor="middle" >35</text>
<text x="127.3" y="540.8" style="font-family:'Liberation Sans'" font-size="14" font-weight="bold" text-anchor="start" >2θ (°)</text>
<text x="0" y="0" style="font-family:'Liberation Sans'" font-size="14" font-weight="bold" transform="translate(21.0,499.6) rotate(-90)">Intensity (a.u.)</text>
<text x="30.099999999999998" y="410.3" style="font-family:'Liberation Sans'" font-size="13" font-weight="normal" text-anchor="start" letter-spacing="0.45">BaMn<tspan font-size="8.8" dx="0.5" dy="2.7" letter-spacing="0">SC</tspan><tspan dx="1.2" dy="-2.7">-C</tspan></text>
<text x="29.8" y="454.3" style="font-family:'Liberation Sans'" font-size="13" font-weight="normal" text-anchor="start" letter-spacing="0.45">BaMn<tspan font-size="8.8" dx="0.5" dy="2.7" letter-spacing="0">SC</tspan></text>
<text x="27.5" y="494.4" style="font-family:'Liberation Sans'" font-size="13" font-weight="normal" text-anchor="start" letter-spacing="0.45">BaMn<tspan font-size="8.8" dx="0.5" dy="2.7" letter-spacing="0">SC</tspan><tspan dx="1.2" dy="-2.7">-SiO</tspan><tspan font-size="8.8" dx="0.6" dy="2.7" letter-spacing="0">2</tspan></text>
<line x1="82.5" y1="517.9" x2="82.5" y2="389" stroke="#222222" stroke-width="1.4" stroke-dasharray="5.2 4.33"/>
<path d="M83.8 376.5 L88.8 381.3 L83.8 386.1 L78.8 381.3 Z" fill="#000"/>
<line x1="123.8" y1="517.9" x2="123.8" y2="388" stroke="#222222" stroke-width="1.4" stroke-dasharray="5.2 4.33"/>
<path d="M123.8 375.6 L129.5 381.3 L123.8 387.0 L118.1 381.3 Z" fill="#fff" stroke="#222" stroke-width="1.1"/>
<line x1="195" y1="517.9" x2="195" y2="391" stroke="#222222" stroke-width="1.4" stroke-dasharray="5.2 4.33"/>
<circle cx="195" cy="380.8" r="5.0" fill="#000"/>
<line x1="220.8" y1="517.9" x2="220.8" y2="387" stroke="#222222" stroke-width="1.4" stroke-dasharray="5.2 4.33"/>
<path d="M221.3 378 L227.0 387 L215.60000000000002 387 Z" fill="#000"/>
<text x="25.6" y="18.5" style="font-family:'Liberation Serif'" font-size="15" font-weight="bold" text-anchor="start" >a<tspan dy="-1.4">)</tspan></text>
<text x="282" y="16.6" style="font-family:'Liberation Serif'" font-size="15" font-weight="bold" text-anchor="start" >b<tspan dy="-1.4">)</tspan></text>
<text x="25.5" y="203.6" style="font-family:'Liberation Serif'" font-size="15" font-weight="bold" text-anchor="start" >c<tspan dy="-1.4">)</tspan></text>
<text x="298.2" y="200.2" style="font-family:'Liberation Serif'" font-size="15" font-weight="bold" text-anchor="start" >d<tspan dy="-1.4">)</tspan></text>
<text x="49" y="374.6" style="font-family:'Liberation Serif'" font-size="15" font-weight="bold" text-anchor="start" >e<tspan dy="-1.4">)</tspan></text>
<circle cx="333.2" cy="420.2" r="5.4" fill="#000"/>
<text x="345.2" y="425.4" style="font-family:'Liberation Sans'" font-size="15" font-weight="normal" text-anchor="start" >BaMnO<tspan font-size="10.5" letter-spacing="0" dx="0.3" dy="3.5">3</tspan><tspan dx="0.6" dy="-3.5" letter-spacing="0.2"> hexagonal</tspan></text>
<path d="M333.7 443.09999999999997 L339.3 447.9 L333.7 452.7 L328.09999999999997 447.9 Z" fill="#000"/>
<text x="340.2" y="453.5" style="font-family:'Liberation Sans'" font-size="15" font-weight="normal" text-anchor="start" >BaCO<tspan font-size="10.5" letter-spacing="0" dx="0.3" dy="3.5">3</tspan></text>
<path d="M333.9 470.4 L339.79999999999995 481.5 L328.0 481.5 Z" fill="#000"/>
<text x="341.5" y="481.6" style="font-family:'Liberation Sans'" font-size="15" font-weight="normal" text-anchor="start" >Mn<tspan font-size="10.5" letter-spacing="0" dx="0.3" dy="3.0">2</tspan><tspan dx="0" dy="-3.0">O</tspan><tspan font-size="10.5" letter-spacing="0" dx="0.3" dy="3.5">3</tspan><tspan dx="0.3" dy="-3.5"> (Pyrolusite</tspan><tspan dx="1.5">)</tspan></text>
<path d="M333.9 498.6 L339.9 504.6 L333.9 510.6 L327.9 504.6 Z" fill="#fff" stroke="#222" stroke-width="1.1"/>
<text x="340.6" y="509.2" style="font-family:'Liberation Sans'" font-size="15" font-weight="normal" text-anchor="start" >SiO<tspan font-size="10.5" letter-spacing="0" dx="0.3" dy="3.8">2</tspan></text>
</svg>
</body></html>
